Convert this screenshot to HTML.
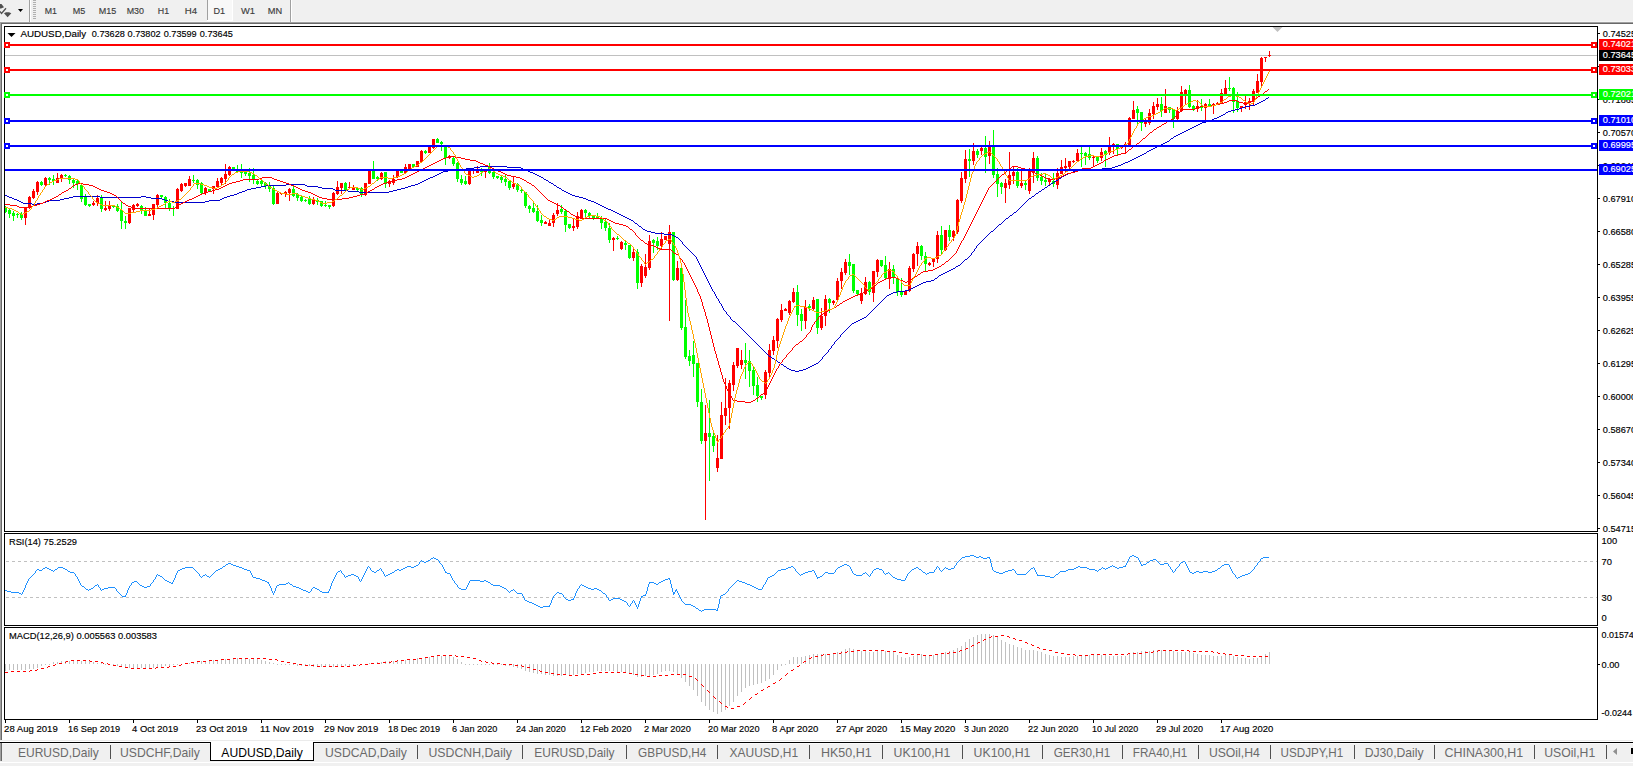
<!DOCTYPE html>
<html><head><meta charset="utf-8"><title>AUDUSD,Daily</title>
<style>html,body{margin:0;padding:0;background:#f0f0f0;overflow:hidden}body{width:1633px;height:766px;position:relative}</style></head>
<body>
<svg width="1633" height="766" viewBox="0 0 1633 766" style="position:absolute;left:0;top:0;font-family:'Liberation Sans',sans-serif">
<rect x="0" y="0" width="1633" height="766" fill="#f0f0f0"/>
<g shape-rendering="crispEdges">
<rect x="0" y="21" width="1633" height="1" fill="#f6f6f6"/>
<rect x="0" y="22" width="1633" height="1" fill="#a0a0a0"/>
<rect x="0" y="23" width="1633" height="1" fill="#696969"/>
<rect x="0" y="24" width="1633" height="718" fill="#ffffff"/>
<rect x="0" y="23" width="1" height="717" fill="#a0a0a0"/>
<rect x="1" y="24" width="1" height="716" fill="#696969"/>
<rect x="4" y="26" width="1594" height="1" fill="#000"/>
<rect x="4" y="531" width="1594" height="1" fill="#000"/>
<rect x="4" y="26" width="1" height="506" fill="#000"/>
<rect x="1597" y="26" width="1" height="506" fill="#000"/>
<rect x="4" y="533" width="1594" height="1" fill="#000"/>
<rect x="4" y="625" width="1594" height="1" fill="#000"/>
<rect x="4" y="533" width="1" height="93" fill="#000"/>
<rect x="1597" y="533" width="1" height="93" fill="#000"/>
<rect x="4" y="627" width="1594" height="1" fill="#000"/>
<rect x="4" y="719" width="1594" height="1" fill="#000"/>
<rect x="4" y="627" width="1" height="93" fill="#000"/>
<rect x="1597" y="627" width="1" height="93" fill="#000"/>
</g>
<defs><clipPath id="cm"><rect x="5" y="27" width="1592" height="504"/></clipPath></defs>
<g shape-rendering="crispEdges">
<rect x="5" y="55" width="1592" height="1" fill="#c0c0c0"/>
</g>
<g shape-rendering="crispEdges" clip-path="url(#cm)">
<rect x="5" y="206" width="1" height="7" fill="#00ff00"/>
<rect x="4" y="208" width="3" height="4" fill="#00ff00"/>
<rect x="9" y="209" width="1" height="9" fill="#00ff00"/>
<rect x="8" y="210" width="3" height="4" fill="#00ff00"/>
<rect x="13" y="211" width="1" height="10" fill="#00ff00"/>
<rect x="12" y="213" width="3" height="3" fill="#00ff00"/>
<rect x="17" y="213" width="1" height="5" fill="#00ff00"/>
<rect x="16" y="214" width="3" height="1" fill="#00ff00"/>
<rect x="21" y="212" width="1" height="8" fill="#00ff00"/>
<rect x="20" y="214" width="3" height="4" fill="#00ff00"/>
<rect x="25" y="208" width="1" height="17" fill="#ff0000"/>
<rect x="24" y="208" width="3" height="10" fill="#ff0000"/>
<rect x="29" y="196" width="1" height="13" fill="#ff0000"/>
<rect x="28" y="197" width="3" height="11" fill="#ff0000"/>
<rect x="33" y="189" width="1" height="10" fill="#ff0000"/>
<rect x="32" y="191" width="3" height="7" fill="#ff0000"/>
<rect x="37" y="181" width="1" height="14" fill="#ff0000"/>
<rect x="36" y="182" width="3" height="10" fill="#ff0000"/>
<rect x="41" y="181" width="1" height="5" fill="#00ff00"/>
<rect x="40" y="182" width="3" height="3" fill="#00ff00"/>
<rect x="45" y="177" width="1" height="9" fill="#ff0000"/>
<rect x="44" y="178" width="3" height="7" fill="#ff0000"/>
<rect x="49" y="177" width="1" height="8" fill="#00ff00"/>
<rect x="48" y="178" width="3" height="2" fill="#00ff00"/>
<rect x="53" y="175" width="1" height="10" fill="#00ff00"/>
<rect x="52" y="179" width="3" height="2" fill="#00ff00"/>
<rect x="57" y="173" width="1" height="10" fill="#ff0000"/>
<rect x="56" y="178" width="3" height="5" fill="#ff0000"/>
<rect x="61" y="174" width="1" height="8" fill="#ff0000"/>
<rect x="60" y="175" width="3" height="3" fill="#ff0000"/>
<rect x="65" y="174" width="1" height="3" fill="#00ff00"/>
<rect x="64" y="175" width="3" height="1" fill="#00ff00"/>
<rect x="69" y="175" width="1" height="9" fill="#00ff00"/>
<rect x="68" y="176" width="3" height="4" fill="#00ff00"/>
<rect x="73" y="179" width="1" height="9" fill="#00ff00"/>
<rect x="72" y="180" width="3" height="3" fill="#00ff00"/>
<rect x="77" y="179" width="1" height="11" fill="#00ff00"/>
<rect x="76" y="181" width="3" height="3" fill="#00ff00"/>
<rect x="81" y="183" width="1" height="19" fill="#00ff00"/>
<rect x="80" y="185" width="3" height="14" fill="#00ff00"/>
<rect x="85" y="194" width="1" height="12" fill="#00ff00"/>
<rect x="84" y="197" width="3" height="8" fill="#00ff00"/>
<rect x="89" y="204" width="1" height="3" fill="#00ff00"/>
<rect x="88" y="204" width="3" height="2" fill="#00ff00"/>
<rect x="93" y="201" width="1" height="5" fill="#ff0000"/>
<rect x="92" y="203" width="3" height="2" fill="#ff0000"/>
<rect x="97" y="195" width="1" height="11" fill="#ff0000"/>
<rect x="96" y="198" width="3" height="5" fill="#ff0000"/>
<rect x="101" y="195" width="1" height="17" fill="#00ff00"/>
<rect x="100" y="198" width="3" height="11" fill="#00ff00"/>
<rect x="105" y="201" width="1" height="10" fill="#ff0000"/>
<rect x="104" y="208" width="3" height="2" fill="#ff0000"/>
<rect x="109" y="201" width="1" height="10" fill="#ff0000"/>
<rect x="108" y="206" width="3" height="3" fill="#ff0000"/>
<rect x="113" y="205" width="1" height="3" fill="#00ff00"/>
<rect x="112" y="206" width="3" height="1" fill="#00ff00"/>
<rect x="117" y="204" width="1" height="8" fill="#00ff00"/>
<rect x="116" y="206" width="3" height="5" fill="#00ff00"/>
<rect x="121" y="202" width="1" height="27" fill="#00ff00"/>
<rect x="120" y="210" width="3" height="11" fill="#00ff00"/>
<rect x="125" y="216" width="1" height="13" fill="#00ff00"/>
<rect x="124" y="221" width="3" height="2" fill="#00ff00"/>
<rect x="129" y="208" width="1" height="16" fill="#ff0000"/>
<rect x="128" y="208" width="3" height="15" fill="#ff0000"/>
<rect x="133" y="204" width="1" height="8" fill="#ff0000"/>
<rect x="132" y="205" width="3" height="5" fill="#ff0000"/>
<rect x="137" y="203" width="1" height="4" fill="#ff0000"/>
<rect x="136" y="204" width="3" height="2" fill="#ff0000"/>
<rect x="141" y="205" width="1" height="9" fill="#00ff00"/>
<rect x="140" y="206" width="3" height="5" fill="#00ff00"/>
<rect x="145" y="207" width="1" height="9" fill="#00ff00"/>
<rect x="144" y="210" width="3" height="6" fill="#00ff00"/>
<rect x="149" y="209" width="1" height="7" fill="#ff0000"/>
<rect x="148" y="214" width="3" height="2" fill="#ff0000"/>
<rect x="153" y="204" width="1" height="16" fill="#ff0000"/>
<rect x="152" y="204" width="3" height="11" fill="#ff0000"/>
<rect x="157" y="194" width="1" height="14" fill="#ff0000"/>
<rect x="156" y="195" width="3" height="10" fill="#ff0000"/>
<rect x="161" y="195" width="1" height="4" fill="#00ff00"/>
<rect x="160" y="195" width="3" height="2" fill="#00ff00"/>
<rect x="165" y="196" width="1" height="12" fill="#00ff00"/>
<rect x="164" y="197" width="3" height="6" fill="#00ff00"/>
<rect x="169" y="199" width="1" height="12" fill="#00ff00"/>
<rect x="168" y="203" width="3" height="5" fill="#00ff00"/>
<rect x="173" y="206" width="1" height="10" fill="#00ff00"/>
<rect x="172" y="208" width="3" height="1" fill="#00ff00"/>
<rect x="177" y="188" width="1" height="21" fill="#ff0000"/>
<rect x="176" y="189" width="3" height="20" fill="#ff0000"/>
<rect x="181" y="183" width="1" height="9" fill="#ff0000"/>
<rect x="180" y="184" width="3" height="7" fill="#ff0000"/>
<rect x="185" y="183" width="1" height="4" fill="#ff0000"/>
<rect x="184" y="183" width="3" height="3" fill="#ff0000"/>
<rect x="189" y="176" width="1" height="10" fill="#ff0000"/>
<rect x="188" y="179" width="3" height="7" fill="#ff0000"/>
<rect x="193" y="175" width="1" height="8" fill="#00ff00"/>
<rect x="192" y="180" width="3" height="1" fill="#00ff00"/>
<rect x="197" y="179" width="1" height="10" fill="#00ff00"/>
<rect x="196" y="180" width="3" height="5" fill="#00ff00"/>
<rect x="201" y="182" width="1" height="12" fill="#00ff00"/>
<rect x="200" y="183" width="3" height="10" fill="#00ff00"/>
<rect x="205" y="187" width="1" height="8" fill="#ff0000"/>
<rect x="204" y="188" width="3" height="5" fill="#ff0000"/>
<rect x="209" y="189" width="1" height="3" fill="#00ff00"/>
<rect x="208" y="189" width="3" height="3" fill="#00ff00"/>
<rect x="213" y="186" width="1" height="8" fill="#ff0000"/>
<rect x="212" y="186" width="3" height="3" fill="#ff0000"/>
<rect x="217" y="178" width="1" height="10" fill="#ff0000"/>
<rect x="216" y="181" width="3" height="6" fill="#ff0000"/>
<rect x="221" y="177" width="1" height="9" fill="#ff0000"/>
<rect x="220" y="178" width="3" height="5" fill="#ff0000"/>
<rect x="225" y="164" width="1" height="20" fill="#ff0000"/>
<rect x="224" y="174" width="3" height="5" fill="#ff0000"/>
<rect x="229" y="166" width="1" height="10" fill="#ff0000"/>
<rect x="228" y="167" width="3" height="8" fill="#ff0000"/>
<rect x="233" y="167" width="1" height="4" fill="#00ff00"/>
<rect x="232" y="167" width="3" height="2" fill="#00ff00"/>
<rect x="237" y="165" width="1" height="8" fill="#00ff00"/>
<rect x="236" y="169" width="3" height="3" fill="#00ff00"/>
<rect x="241" y="164" width="1" height="14" fill="#00ff00"/>
<rect x="240" y="171" width="3" height="2" fill="#00ff00"/>
<rect x="245" y="171" width="1" height="5" fill="#00ff00"/>
<rect x="244" y="171" width="3" height="3" fill="#00ff00"/>
<rect x="249" y="168" width="1" height="14" fill="#00ff00"/>
<rect x="248" y="173" width="3" height="3" fill="#00ff00"/>
<rect x="253" y="168" width="1" height="16" fill="#00ff00"/>
<rect x="252" y="175" width="3" height="5" fill="#00ff00"/>
<rect x="257" y="180" width="1" height="5" fill="#00ff00"/>
<rect x="256" y="181" width="3" height="3" fill="#00ff00"/>
<rect x="261" y="178" width="1" height="8" fill="#00ff00"/>
<rect x="260" y="181" width="3" height="3" fill="#00ff00"/>
<rect x="265" y="182" width="1" height="7" fill="#00ff00"/>
<rect x="264" y="183" width="3" height="3" fill="#00ff00"/>
<rect x="269" y="182" width="1" height="10" fill="#00ff00"/>
<rect x="268" y="186" width="3" height="3" fill="#00ff00"/>
<rect x="273" y="186" width="1" height="19" fill="#00ff00"/>
<rect x="272" y="188" width="3" height="16" fill="#00ff00"/>
<rect x="277" y="192" width="1" height="12" fill="#ff0000"/>
<rect x="276" y="193" width="3" height="11" fill="#ff0000"/>
<rect x="281" y="193" width="1" height="2" fill="#ff0000"/>
<rect x="280" y="193" width="3" height="1" fill="#ff0000"/>
<rect x="285" y="191" width="1" height="6" fill="#ff0000"/>
<rect x="284" y="192" width="3" height="2" fill="#ff0000"/>
<rect x="289" y="188" width="1" height="13" fill="#ff0000"/>
<rect x="288" y="189" width="3" height="4" fill="#ff0000"/>
<rect x="293" y="186" width="1" height="11" fill="#00ff00"/>
<rect x="292" y="189" width="3" height="7" fill="#00ff00"/>
<rect x="297" y="193" width="1" height="8" fill="#00ff00"/>
<rect x="296" y="194" width="3" height="4" fill="#00ff00"/>
<rect x="301" y="196" width="1" height="6" fill="#00ff00"/>
<rect x="300" y="197" width="3" height="4" fill="#00ff00"/>
<rect x="305" y="199" width="1" height="3" fill="#00ff00"/>
<rect x="304" y="200" width="3" height="1" fill="#00ff00"/>
<rect x="309" y="196" width="1" height="9" fill="#00ff00"/>
<rect x="308" y="199" width="3" height="5" fill="#00ff00"/>
<rect x="313" y="197" width="1" height="8" fill="#ff0000"/>
<rect x="312" y="200" width="3" height="4" fill="#ff0000"/>
<rect x="317" y="198" width="1" height="7" fill="#00ff00"/>
<rect x="316" y="200" width="3" height="2" fill="#00ff00"/>
<rect x="321" y="201" width="1" height="6" fill="#00ff00"/>
<rect x="320" y="201" width="3" height="5" fill="#00ff00"/>
<rect x="325" y="201" width="1" height="6" fill="#00ff00"/>
<rect x="324" y="205" width="3" height="1" fill="#00ff00"/>
<rect x="329" y="205" width="1" height="4" fill="#00ff00"/>
<rect x="328" y="205" width="3" height="2" fill="#00ff00"/>
<rect x="333" y="192" width="1" height="15" fill="#ff0000"/>
<rect x="332" y="193" width="3" height="13" fill="#ff0000"/>
<rect x="337" y="181" width="1" height="14" fill="#ff0000"/>
<rect x="336" y="187" width="3" height="7" fill="#ff0000"/>
<rect x="341" y="183" width="1" height="11" fill="#ff0000"/>
<rect x="340" y="183" width="3" height="5" fill="#ff0000"/>
<rect x="345" y="182" width="1" height="9" fill="#00ff00"/>
<rect x="344" y="183" width="3" height="8" fill="#00ff00"/>
<rect x="349" y="182" width="1" height="7" fill="#ff0000"/>
<rect x="348" y="187" width="3" height="1" fill="#ff0000"/>
<rect x="353" y="185" width="1" height="5" fill="#ff0000"/>
<rect x="352" y="187" width="3" height="3" fill="#ff0000"/>
<rect x="357" y="187" width="1" height="4" fill="#00ff00"/>
<rect x="356" y="188" width="3" height="2" fill="#00ff00"/>
<rect x="361" y="187" width="1" height="10" fill="#00ff00"/>
<rect x="360" y="188" width="3" height="7" fill="#00ff00"/>
<rect x="365" y="183" width="1" height="13" fill="#ff0000"/>
<rect x="364" y="183" width="3" height="12" fill="#ff0000"/>
<rect x="369" y="170" width="1" height="14" fill="#ff0000"/>
<rect x="368" y="171" width="3" height="13" fill="#ff0000"/>
<rect x="373" y="161" width="1" height="18" fill="#00ff00"/>
<rect x="372" y="171" width="3" height="8" fill="#00ff00"/>
<rect x="377" y="176" width="1" height="5" fill="#00ff00"/>
<rect x="376" y="177" width="3" height="2" fill="#00ff00"/>
<rect x="381" y="172" width="1" height="8" fill="#ff0000"/>
<rect x="380" y="173" width="3" height="6" fill="#ff0000"/>
<rect x="385" y="172" width="1" height="16" fill="#00ff00"/>
<rect x="384" y="172" width="3" height="12" fill="#00ff00"/>
<rect x="389" y="180" width="1" height="7" fill="#ff0000"/>
<rect x="388" y="181" width="3" height="3" fill="#ff0000"/>
<rect x="393" y="175" width="1" height="10" fill="#ff0000"/>
<rect x="392" y="179" width="3" height="4" fill="#ff0000"/>
<rect x="397" y="170" width="1" height="8" fill="#ff0000"/>
<rect x="396" y="171" width="3" height="6" fill="#ff0000"/>
<rect x="401" y="170" width="1" height="3" fill="#00ff00"/>
<rect x="400" y="171" width="3" height="2" fill="#00ff00"/>
<rect x="405" y="164" width="1" height="10" fill="#ff0000"/>
<rect x="404" y="167" width="3" height="6" fill="#ff0000"/>
<rect x="409" y="164" width="1" height="5" fill="#ff0000"/>
<rect x="408" y="164" width="3" height="5" fill="#ff0000"/>
<rect x="413" y="164" width="1" height="3" fill="#00ff00"/>
<rect x="412" y="164" width="3" height="3" fill="#00ff00"/>
<rect x="417" y="161" width="1" height="6" fill="#ff0000"/>
<rect x="416" y="161" width="3" height="6" fill="#ff0000"/>
<rect x="421" y="150" width="1" height="12" fill="#ff0000"/>
<rect x="420" y="151" width="3" height="11" fill="#ff0000"/>
<rect x="425" y="150" width="1" height="4" fill="#00ff00"/>
<rect x="424" y="151" width="3" height="2" fill="#00ff00"/>
<rect x="429" y="146" width="1" height="7" fill="#ff0000"/>
<rect x="428" y="146" width="3" height="7" fill="#ff0000"/>
<rect x="433" y="139" width="1" height="10" fill="#ff0000"/>
<rect x="432" y="139" width="3" height="9" fill="#ff0000"/>
<rect x="437" y="138" width="1" height="5" fill="#00ff00"/>
<rect x="436" y="139" width="3" height="4" fill="#00ff00"/>
<rect x="441" y="141" width="1" height="10" fill="#00ff00"/>
<rect x="440" y="142" width="3" height="2" fill="#00ff00"/>
<rect x="445" y="146" width="1" height="19" fill="#00ff00"/>
<rect x="444" y="146" width="3" height="12" fill="#00ff00"/>
<rect x="449" y="155" width="1" height="4" fill="#ff0000"/>
<rect x="448" y="156" width="3" height="2" fill="#ff0000"/>
<rect x="453" y="157" width="1" height="9" fill="#00ff00"/>
<rect x="452" y="158" width="3" height="6" fill="#00ff00"/>
<rect x="457" y="162" width="1" height="20" fill="#00ff00"/>
<rect x="456" y="163" width="3" height="16" fill="#00ff00"/>
<rect x="461" y="175" width="1" height="10" fill="#00ff00"/>
<rect x="460" y="179" width="3" height="4" fill="#00ff00"/>
<rect x="465" y="176" width="1" height="9" fill="#00ff00"/>
<rect x="464" y="181" width="3" height="3" fill="#00ff00"/>
<rect x="469" y="170" width="1" height="15" fill="#ff0000"/>
<rect x="468" y="171" width="3" height="13" fill="#ff0000"/>
<rect x="473" y="168" width="1" height="6" fill="#ff0000"/>
<rect x="472" y="170" width="3" height="1" fill="#ff0000"/>
<rect x="477" y="166" width="1" height="7" fill="#ff0000"/>
<rect x="476" y="169" width="3" height="4" fill="#ff0000"/>
<rect x="481" y="168" width="1" height="8" fill="#00ff00"/>
<rect x="480" y="169" width="3" height="3" fill="#00ff00"/>
<rect x="485" y="170" width="1" height="8" fill="#ff0000"/>
<rect x="484" y="170" width="3" height="2" fill="#ff0000"/>
<rect x="489" y="163" width="1" height="11" fill="#00ff00"/>
<rect x="488" y="167" width="3" height="6" fill="#00ff00"/>
<rect x="493" y="169" width="1" height="10" fill="#00ff00"/>
<rect x="492" y="172" width="3" height="5" fill="#00ff00"/>
<rect x="497" y="176" width="1" height="3" fill="#00ff00"/>
<rect x="496" y="176" width="3" height="2" fill="#00ff00"/>
<rect x="501" y="176" width="1" height="7" fill="#00ff00"/>
<rect x="500" y="177" width="3" height="3" fill="#00ff00"/>
<rect x="505" y="175" width="1" height="11" fill="#00ff00"/>
<rect x="504" y="179" width="3" height="3" fill="#00ff00"/>
<rect x="509" y="180" width="1" height="10" fill="#00ff00"/>
<rect x="508" y="181" width="3" height="7" fill="#00ff00"/>
<rect x="513" y="176" width="1" height="13" fill="#ff0000"/>
<rect x="512" y="184" width="3" height="3" fill="#ff0000"/>
<rect x="517" y="183" width="1" height="9" fill="#00ff00"/>
<rect x="516" y="184" width="3" height="6" fill="#00ff00"/>
<rect x="521" y="189" width="1" height="4" fill="#00ff00"/>
<rect x="520" y="190" width="3" height="1" fill="#00ff00"/>
<rect x="525" y="192" width="1" height="16" fill="#00ff00"/>
<rect x="524" y="192" width="3" height="14" fill="#00ff00"/>
<rect x="529" y="205" width="1" height="8" fill="#00ff00"/>
<rect x="528" y="206" width="3" height="3" fill="#00ff00"/>
<rect x="533" y="202" width="1" height="11" fill="#00ff00"/>
<rect x="532" y="208" width="3" height="4" fill="#00ff00"/>
<rect x="537" y="205" width="1" height="17" fill="#00ff00"/>
<rect x="536" y="211" width="3" height="10" fill="#00ff00"/>
<rect x="541" y="215" width="1" height="11" fill="#00ff00"/>
<rect x="540" y="220" width="3" height="3" fill="#00ff00"/>
<rect x="545" y="221" width="1" height="3" fill="#ff0000"/>
<rect x="544" y="222" width="3" height="2" fill="#ff0000"/>
<rect x="549" y="220" width="1" height="6" fill="#ff0000"/>
<rect x="548" y="223" width="3" height="3" fill="#ff0000"/>
<rect x="553" y="213" width="1" height="14" fill="#ff0000"/>
<rect x="552" y="215" width="3" height="8" fill="#ff0000"/>
<rect x="557" y="203" width="1" height="13" fill="#ff0000"/>
<rect x="556" y="210" width="3" height="4" fill="#ff0000"/>
<rect x="561" y="205" width="1" height="9" fill="#00ff00"/>
<rect x="560" y="209" width="3" height="3" fill="#00ff00"/>
<rect x="565" y="209" width="1" height="23" fill="#00ff00"/>
<rect x="564" y="211" width="3" height="14" fill="#00ff00"/>
<rect x="569" y="224" width="1" height="5" fill="#00ff00"/>
<rect x="568" y="224" width="3" height="4" fill="#00ff00"/>
<rect x="573" y="219" width="1" height="12" fill="#ff0000"/>
<rect x="572" y="226" width="3" height="2" fill="#ff0000"/>
<rect x="577" y="212" width="1" height="17" fill="#ff0000"/>
<rect x="576" y="216" width="3" height="11" fill="#ff0000"/>
<rect x="581" y="209" width="1" height="10" fill="#ff0000"/>
<rect x="580" y="210" width="3" height="8" fill="#ff0000"/>
<rect x="585" y="209" width="1" height="9" fill="#00ff00"/>
<rect x="584" y="210" width="3" height="3" fill="#00ff00"/>
<rect x="589" y="212" width="1" height="6" fill="#00ff00"/>
<rect x="588" y="213" width="3" height="3" fill="#00ff00"/>
<rect x="593" y="215" width="1" height="5" fill="#00ff00"/>
<rect x="592" y="216" width="3" height="3" fill="#00ff00"/>
<rect x="597" y="213" width="1" height="5" fill="#00ff00"/>
<rect x="596" y="216" width="3" height="2" fill="#00ff00"/>
<rect x="601" y="216" width="1" height="13" fill="#00ff00"/>
<rect x="600" y="218" width="3" height="5" fill="#00ff00"/>
<rect x="605" y="218" width="1" height="13" fill="#00ff00"/>
<rect x="604" y="222" width="3" height="6" fill="#00ff00"/>
<rect x="609" y="223" width="1" height="20" fill="#00ff00"/>
<rect x="608" y="228" width="3" height="12" fill="#00ff00"/>
<rect x="613" y="237" width="1" height="14" fill="#ff0000"/>
<rect x="612" y="238" width="3" height="2" fill="#ff0000"/>
<rect x="617" y="236" width="1" height="4" fill="#00ff00"/>
<rect x="616" y="238" width="3" height="1" fill="#00ff00"/>
<rect x="621" y="241" width="1" height="9" fill="#ff0000"/>
<rect x="620" y="242" width="3" height="7" fill="#ff0000"/>
<rect x="625" y="240" width="1" height="10" fill="#00ff00"/>
<rect x="624" y="243" width="3" height="2" fill="#00ff00"/>
<rect x="629" y="245" width="1" height="14" fill="#00ff00"/>
<rect x="628" y="245" width="3" height="13" fill="#00ff00"/>
<rect x="633" y="248" width="1" height="13" fill="#ff0000"/>
<rect x="632" y="252" width="3" height="6" fill="#ff0000"/>
<rect x="637" y="249" width="1" height="40" fill="#00ff00"/>
<rect x="636" y="252" width="3" height="31" fill="#00ff00"/>
<rect x="641" y="264" width="1" height="23" fill="#ff0000"/>
<rect x="640" y="266" width="3" height="17" fill="#ff0000"/>
<rect x="645" y="254" width="1" height="24" fill="#ff0000"/>
<rect x="644" y="267" width="3" height="9" fill="#ff0000"/>
<rect x="649" y="235" width="1" height="35" fill="#ff0000"/>
<rect x="648" y="241" width="3" height="27" fill="#ff0000"/>
<rect x="653" y="239" width="1" height="14" fill="#00ff00"/>
<rect x="652" y="240" width="3" height="3" fill="#00ff00"/>
<rect x="657" y="237" width="1" height="13" fill="#00ff00"/>
<rect x="656" y="241" width="3" height="5" fill="#00ff00"/>
<rect x="661" y="232" width="1" height="18" fill="#ff0000"/>
<rect x="660" y="239" width="3" height="7" fill="#ff0000"/>
<rect x="665" y="236" width="1" height="4" fill="#ff0000"/>
<rect x="664" y="236" width="3" height="4" fill="#ff0000"/>
<rect x="669" y="225" width="1" height="96" fill="#ff0000"/>
<rect x="668" y="232" width="3" height="12" fill="#ff0000"/>
<rect x="673" y="232" width="1" height="49" fill="#00ff00"/>
<rect x="672" y="232" width="3" height="48" fill="#00ff00"/>
<rect x="677" y="261" width="1" height="20" fill="#ff0000"/>
<rect x="676" y="268" width="3" height="12" fill="#ff0000"/>
<rect x="681" y="268" width="1" height="62" fill="#00ff00"/>
<rect x="680" y="268" width="3" height="60" fill="#00ff00"/>
<rect x="685" y="300" width="1" height="59" fill="#00ff00"/>
<rect x="684" y="327" width="3" height="30" fill="#00ff00"/>
<rect x="689" y="350" width="1" height="16" fill="#00ff00"/>
<rect x="688" y="356" width="3" height="5" fill="#00ff00"/>
<rect x="693" y="341" width="1" height="36" fill="#00ff00"/>
<rect x="692" y="355" width="3" height="9" fill="#00ff00"/>
<rect x="697" y="363" width="1" height="44" fill="#00ff00"/>
<rect x="696" y="363" width="3" height="39" fill="#00ff00"/>
<rect x="701" y="389" width="1" height="55" fill="#00ff00"/>
<rect x="700" y="402" width="3" height="39" fill="#00ff00"/>
<rect x="705" y="405" width="1" height="115" fill="#ff0000"/>
<rect x="704" y="433" width="3" height="8" fill="#ff0000"/>
<rect x="709" y="400" width="1" height="81" fill="#00ff00"/>
<rect x="708" y="433" width="3" height="4" fill="#00ff00"/>
<rect x="713" y="433" width="1" height="19" fill="#00ff00"/>
<rect x="712" y="436" width="3" height="10" fill="#00ff00"/>
<rect x="717" y="435" width="1" height="37" fill="#ff0000"/>
<rect x="716" y="458" width="3" height="10" fill="#ff0000"/>
<rect x="721" y="402" width="1" height="57" fill="#ff0000"/>
<rect x="720" y="415" width="3" height="44" fill="#ff0000"/>
<rect x="725" y="378" width="1" height="47" fill="#ff0000"/>
<rect x="724" y="408" width="3" height="8" fill="#ff0000"/>
<rect x="729" y="380" width="1" height="49" fill="#ff0000"/>
<rect x="728" y="383" width="3" height="25" fill="#ff0000"/>
<rect x="733" y="362" width="1" height="29" fill="#ff0000"/>
<rect x="732" y="365" width="3" height="20" fill="#ff0000"/>
<rect x="737" y="348" width="1" height="20" fill="#ff0000"/>
<rect x="736" y="348" width="3" height="18" fill="#ff0000"/>
<rect x="741" y="350" width="1" height="19" fill="#ff0000"/>
<rect x="740" y="360" width="3" height="5" fill="#ff0000"/>
<rect x="745" y="343" width="1" height="36" fill="#00ff00"/>
<rect x="744" y="360" width="3" height="3" fill="#00ff00"/>
<rect x="749" y="350" width="1" height="37" fill="#00ff00"/>
<rect x="748" y="361" width="3" height="10" fill="#00ff00"/>
<rect x="753" y="367" width="1" height="28" fill="#00ff00"/>
<rect x="752" y="370" width="3" height="16" fill="#00ff00"/>
<rect x="757" y="377" width="1" height="25" fill="#00ff00"/>
<rect x="756" y="385" width="3" height="11" fill="#00ff00"/>
<rect x="761" y="396" width="1" height="4" fill="#00ff00"/>
<rect x="760" y="396" width="3" height="2" fill="#00ff00"/>
<rect x="765" y="370" width="1" height="29" fill="#ff0000"/>
<rect x="764" y="372" width="3" height="23" fill="#ff0000"/>
<rect x="769" y="344" width="1" height="34" fill="#ff0000"/>
<rect x="768" y="350" width="3" height="23" fill="#ff0000"/>
<rect x="773" y="336" width="1" height="19" fill="#ff0000"/>
<rect x="772" y="340" width="3" height="11" fill="#ff0000"/>
<rect x="777" y="318" width="1" height="30" fill="#ff0000"/>
<rect x="776" y="319" width="3" height="22" fill="#ff0000"/>
<rect x="781" y="304" width="1" height="18" fill="#ff0000"/>
<rect x="780" y="310" width="3" height="10" fill="#ff0000"/>
<rect x="785" y="308" width="1" height="3" fill="#ff0000"/>
<rect x="784" y="309" width="3" height="2" fill="#ff0000"/>
<rect x="789" y="300" width="1" height="15" fill="#ff0000"/>
<rect x="788" y="301" width="3" height="12" fill="#ff0000"/>
<rect x="793" y="288" width="1" height="15" fill="#ff0000"/>
<rect x="792" y="292" width="3" height="10" fill="#ff0000"/>
<rect x="797" y="285" width="1" height="41" fill="#00ff00"/>
<rect x="796" y="292" width="3" height="23" fill="#00ff00"/>
<rect x="801" y="309" width="1" height="22" fill="#00ff00"/>
<rect x="800" y="314" width="3" height="7" fill="#00ff00"/>
<rect x="805" y="300" width="1" height="29" fill="#ff0000"/>
<rect x="804" y="307" width="3" height="14" fill="#ff0000"/>
<rect x="809" y="304" width="1" height="7" fill="#00ff00"/>
<rect x="808" y="306" width="3" height="2" fill="#00ff00"/>
<rect x="813" y="297" width="1" height="13" fill="#ff0000"/>
<rect x="812" y="300" width="3" height="9" fill="#ff0000"/>
<rect x="817" y="299" width="1" height="35" fill="#00ff00"/>
<rect x="816" y="299" width="3" height="29" fill="#00ff00"/>
<rect x="821" y="308" width="1" height="22" fill="#ff0000"/>
<rect x="820" y="316" width="3" height="12" fill="#ff0000"/>
<rect x="825" y="295" width="1" height="31" fill="#ff0000"/>
<rect x="824" y="299" width="3" height="17" fill="#ff0000"/>
<rect x="829" y="298" width="1" height="15" fill="#00ff00"/>
<rect x="828" y="299" width="3" height="4" fill="#00ff00"/>
<rect x="833" y="300" width="1" height="5" fill="#ff0000"/>
<rect x="832" y="301" width="3" height="2" fill="#ff0000"/>
<rect x="837" y="278" width="1" height="23" fill="#ff0000"/>
<rect x="836" y="281" width="3" height="19" fill="#ff0000"/>
<rect x="841" y="268" width="1" height="21" fill="#ff0000"/>
<rect x="840" y="272" width="3" height="9" fill="#ff0000"/>
<rect x="845" y="259" width="1" height="16" fill="#ff0000"/>
<rect x="844" y="262" width="3" height="11" fill="#ff0000"/>
<rect x="849" y="254" width="1" height="21" fill="#00ff00"/>
<rect x="848" y="262" width="3" height="4" fill="#00ff00"/>
<rect x="853" y="264" width="1" height="29" fill="#00ff00"/>
<rect x="852" y="264" width="3" height="27" fill="#00ff00"/>
<rect x="857" y="290" width="1" height="5" fill="#00ff00"/>
<rect x="856" y="290" width="3" height="4" fill="#00ff00"/>
<rect x="861" y="288" width="1" height="16" fill="#ff0000"/>
<rect x="860" y="293" width="3" height="8" fill="#ff0000"/>
<rect x="865" y="277" width="1" height="18" fill="#ff0000"/>
<rect x="864" y="282" width="3" height="12" fill="#ff0000"/>
<rect x="869" y="281" width="1" height="14" fill="#00ff00"/>
<rect x="868" y="282" width="3" height="10" fill="#00ff00"/>
<rect x="873" y="271" width="1" height="31" fill="#ff0000"/>
<rect x="872" y="271" width="3" height="22" fill="#ff0000"/>
<rect x="877" y="259" width="1" height="18" fill="#ff0000"/>
<rect x="876" y="260" width="3" height="12" fill="#ff0000"/>
<rect x="881" y="260" width="1" height="7" fill="#00ff00"/>
<rect x="880" y="260" width="3" height="6" fill="#00ff00"/>
<rect x="885" y="256" width="1" height="23" fill="#00ff00"/>
<rect x="884" y="265" width="3" height="13" fill="#00ff00"/>
<rect x="889" y="262" width="1" height="27" fill="#ff0000"/>
<rect x="888" y="269" width="3" height="10" fill="#ff0000"/>
<rect x="893" y="265" width="1" height="19" fill="#00ff00"/>
<rect x="892" y="269" width="3" height="8" fill="#00ff00"/>
<rect x="897" y="278" width="1" height="18" fill="#00ff00"/>
<rect x="896" y="279" width="3" height="13" fill="#00ff00"/>
<rect x="901" y="278" width="1" height="19" fill="#00ff00"/>
<rect x="900" y="291" width="3" height="4" fill="#00ff00"/>
<rect x="905" y="291" width="1" height="4" fill="#ff0000"/>
<rect x="904" y="291" width="3" height="4" fill="#ff0000"/>
<rect x="909" y="266" width="1" height="26" fill="#ff0000"/>
<rect x="908" y="268" width="3" height="23" fill="#ff0000"/>
<rect x="913" y="253" width="1" height="19" fill="#ff0000"/>
<rect x="912" y="254" width="3" height="15" fill="#ff0000"/>
<rect x="917" y="242" width="1" height="24" fill="#ff0000"/>
<rect x="916" y="246" width="3" height="8" fill="#ff0000"/>
<rect x="921" y="245" width="1" height="15" fill="#00ff00"/>
<rect x="920" y="246" width="3" height="10" fill="#00ff00"/>
<rect x="925" y="252" width="1" height="19" fill="#00ff00"/>
<rect x="924" y="256" width="3" height="8" fill="#00ff00"/>
<rect x="929" y="262" width="1" height="4" fill="#ff0000"/>
<rect x="928" y="263" width="3" height="2" fill="#ff0000"/>
<rect x="933" y="259" width="1" height="8" fill="#ff0000"/>
<rect x="932" y="259" width="3" height="3" fill="#ff0000"/>
<rect x="937" y="231" width="1" height="32" fill="#ff0000"/>
<rect x="936" y="235" width="3" height="24" fill="#ff0000"/>
<rect x="941" y="226" width="1" height="28" fill="#00ff00"/>
<rect x="940" y="235" width="3" height="15" fill="#00ff00"/>
<rect x="945" y="230" width="1" height="21" fill="#ff0000"/>
<rect x="944" y="230" width="3" height="20" fill="#ff0000"/>
<rect x="949" y="225" width="1" height="16" fill="#00ff00"/>
<rect x="948" y="230" width="3" height="7" fill="#00ff00"/>
<rect x="953" y="230" width="1" height="11" fill="#ff0000"/>
<rect x="952" y="231" width="3" height="6" fill="#ff0000"/>
<rect x="957" y="199" width="1" height="35" fill="#ff0000"/>
<rect x="956" y="200" width="3" height="32" fill="#ff0000"/>
<rect x="961" y="172" width="1" height="31" fill="#ff0000"/>
<rect x="960" y="178" width="3" height="23" fill="#ff0000"/>
<rect x="965" y="150" width="1" height="33" fill="#ff0000"/>
<rect x="964" y="159" width="3" height="20" fill="#ff0000"/>
<rect x="969" y="149" width="1" height="28" fill="#00ff00"/>
<rect x="968" y="159" width="3" height="2" fill="#00ff00"/>
<rect x="973" y="143" width="1" height="22" fill="#ff0000"/>
<rect x="972" y="151" width="3" height="10" fill="#ff0000"/>
<rect x="977" y="149" width="1" height="9" fill="#00ff00"/>
<rect x="976" y="151" width="3" height="4" fill="#00ff00"/>
<rect x="981" y="147" width="1" height="8" fill="#ff0000"/>
<rect x="980" y="148" width="3" height="3" fill="#ff0000"/>
<rect x="985" y="136" width="1" height="37" fill="#00ff00"/>
<rect x="984" y="148" width="3" height="9" fill="#00ff00"/>
<rect x="989" y="141" width="1" height="23" fill="#ff0000"/>
<rect x="988" y="147" width="3" height="9" fill="#ff0000"/>
<rect x="993" y="130" width="1" height="48" fill="#00ff00"/>
<rect x="992" y="147" width="3" height="28" fill="#00ff00"/>
<rect x="997" y="168" width="1" height="29" fill="#00ff00"/>
<rect x="996" y="174" width="3" height="10" fill="#00ff00"/>
<rect x="1001" y="182" width="1" height="12" fill="#00ff00"/>
<rect x="1000" y="183" width="3" height="4" fill="#00ff00"/>
<rect x="1005" y="179" width="1" height="24" fill="#ff0000"/>
<rect x="1004" y="183" width="3" height="5" fill="#ff0000"/>
<rect x="1009" y="152" width="1" height="37" fill="#ff0000"/>
<rect x="1008" y="175" width="3" height="10" fill="#ff0000"/>
<rect x="1013" y="166" width="1" height="18" fill="#ff0000"/>
<rect x="1012" y="172" width="3" height="4" fill="#ff0000"/>
<rect x="1017" y="168" width="1" height="20" fill="#00ff00"/>
<rect x="1016" y="172" width="3" height="14" fill="#00ff00"/>
<rect x="1021" y="168" width="1" height="20" fill="#ff0000"/>
<rect x="1020" y="183" width="3" height="3" fill="#ff0000"/>
<rect x="1025" y="180" width="1" height="10" fill="#00ff00"/>
<rect x="1024" y="183" width="3" height="2" fill="#00ff00"/>
<rect x="1029" y="168" width="1" height="26" fill="#ff0000"/>
<rect x="1028" y="170" width="3" height="21" fill="#ff0000"/>
<rect x="1033" y="152" width="1" height="31" fill="#ff0000"/>
<rect x="1032" y="158" width="3" height="15" fill="#ff0000"/>
<rect x="1037" y="156" width="1" height="25" fill="#00ff00"/>
<rect x="1036" y="158" width="3" height="20" fill="#00ff00"/>
<rect x="1041" y="173" width="1" height="12" fill="#00ff00"/>
<rect x="1040" y="177" width="3" height="4" fill="#00ff00"/>
<rect x="1045" y="173" width="1" height="13" fill="#00ff00"/>
<rect x="1044" y="180" width="3" height="2" fill="#00ff00"/>
<rect x="1049" y="178" width="1" height="7" fill="#ff0000"/>
<rect x="1048" y="179" width="3" height="3" fill="#ff0000"/>
<rect x="1053" y="173" width="1" height="14" fill="#00ff00"/>
<rect x="1052" y="181" width="3" height="3" fill="#00ff00"/>
<rect x="1057" y="168" width="1" height="21" fill="#ff0000"/>
<rect x="1056" y="173" width="3" height="12" fill="#ff0000"/>
<rect x="1061" y="160" width="1" height="14" fill="#ff0000"/>
<rect x="1060" y="167" width="3" height="7" fill="#ff0000"/>
<rect x="1065" y="158" width="1" height="14" fill="#ff0000"/>
<rect x="1064" y="166" width="3" height="2" fill="#ff0000"/>
<rect x="1069" y="161" width="1" height="8" fill="#ff0000"/>
<rect x="1068" y="161" width="3" height="6" fill="#ff0000"/>
<rect x="1073" y="160" width="1" height="3" fill="#ff0000"/>
<rect x="1072" y="161" width="3" height="1" fill="#ff0000"/>
<rect x="1077" y="149" width="1" height="13" fill="#ff0000"/>
<rect x="1076" y="153" width="3" height="8" fill="#ff0000"/>
<rect x="1081" y="147" width="1" height="20" fill="#00ff00"/>
<rect x="1080" y="153" width="3" height="1" fill="#00ff00"/>
<rect x="1085" y="152" width="1" height="13" fill="#00ff00"/>
<rect x="1084" y="153" width="3" height="3" fill="#00ff00"/>
<rect x="1089" y="147" width="1" height="13" fill="#00ff00"/>
<rect x="1088" y="154" width="3" height="4" fill="#00ff00"/>
<rect x="1093" y="156" width="1" height="10" fill="#ff0000"/>
<rect x="1092" y="157" width="3" height="1" fill="#ff0000"/>
<rect x="1097" y="156" width="1" height="7" fill="#00ff00"/>
<rect x="1096" y="157" width="3" height="4" fill="#00ff00"/>
<rect x="1101" y="148" width="1" height="13" fill="#ff0000"/>
<rect x="1100" y="152" width="3" height="6" fill="#ff0000"/>
<rect x="1105" y="150" width="1" height="17" fill="#00ff00"/>
<rect x="1104" y="151" width="3" height="4" fill="#00ff00"/>
<rect x="1109" y="137" width="1" height="18" fill="#ff0000"/>
<rect x="1108" y="147" width="3" height="6" fill="#ff0000"/>
<rect x="1113" y="143" width="1" height="11" fill="#ff0000"/>
<rect x="1112" y="144" width="3" height="3" fill="#ff0000"/>
<rect x="1117" y="144" width="1" height="11" fill="#00ff00"/>
<rect x="1116" y="144" width="3" height="5" fill="#00ff00"/>
<rect x="1121" y="145" width="1" height="4" fill="#ff0000"/>
<rect x="1120" y="146" width="3" height="2" fill="#ff0000"/>
<rect x="1125" y="142" width="1" height="12" fill="#ff0000"/>
<rect x="1124" y="144" width="3" height="2" fill="#ff0000"/>
<rect x="1129" y="117" width="1" height="29" fill="#ff0000"/>
<rect x="1128" y="118" width="3" height="27" fill="#ff0000"/>
<rect x="1133" y="101" width="1" height="18" fill="#ff0000"/>
<rect x="1132" y="110" width="3" height="9" fill="#ff0000"/>
<rect x="1137" y="106" width="1" height="19" fill="#00ff00"/>
<rect x="1136" y="109" width="3" height="4" fill="#00ff00"/>
<rect x="1141" y="112" width="1" height="19" fill="#00ff00"/>
<rect x="1140" y="112" width="3" height="11" fill="#00ff00"/>
<rect x="1145" y="119" width="1" height="8" fill="#ff0000"/>
<rect x="1144" y="121" width="3" height="3" fill="#ff0000"/>
<rect x="1149" y="109" width="1" height="16" fill="#ff0000"/>
<rect x="1148" y="113" width="3" height="10" fill="#ff0000"/>
<rect x="1153" y="102" width="1" height="17" fill="#ff0000"/>
<rect x="1152" y="106" width="3" height="8" fill="#ff0000"/>
<rect x="1157" y="98" width="1" height="12" fill="#ff0000"/>
<rect x="1156" y="104" width="3" height="3" fill="#ff0000"/>
<rect x="1161" y="97" width="1" height="20" fill="#00ff00"/>
<rect x="1160" y="104" width="3" height="7" fill="#00ff00"/>
<rect x="1165" y="89" width="1" height="24" fill="#ff0000"/>
<rect x="1164" y="106" width="3" height="7" fill="#ff0000"/>
<rect x="1169" y="107" width="1" height="6" fill="#00ff00"/>
<rect x="1168" y="107" width="3" height="3" fill="#00ff00"/>
<rect x="1173" y="109" width="1" height="19" fill="#00ff00"/>
<rect x="1172" y="109" width="3" height="10" fill="#00ff00"/>
<rect x="1177" y="107" width="1" height="13" fill="#ff0000"/>
<rect x="1176" y="111" width="3" height="8" fill="#ff0000"/>
<rect x="1181" y="86" width="1" height="26" fill="#ff0000"/>
<rect x="1180" y="92" width="3" height="19" fill="#ff0000"/>
<rect x="1185" y="89" width="1" height="16" fill="#ff0000"/>
<rect x="1184" y="90" width="3" height="4" fill="#ff0000"/>
<rect x="1189" y="85" width="1" height="23" fill="#00ff00"/>
<rect x="1188" y="90" width="3" height="17" fill="#00ff00"/>
<rect x="1193" y="105" width="1" height="6" fill="#00ff00"/>
<rect x="1192" y="106" width="3" height="3" fill="#00ff00"/>
<rect x="1197" y="100" width="1" height="12" fill="#ff0000"/>
<rect x="1196" y="106" width="3" height="3" fill="#ff0000"/>
<rect x="1201" y="99" width="1" height="12" fill="#00ff00"/>
<rect x="1200" y="106" width="3" height="2" fill="#00ff00"/>
<rect x="1205" y="103" width="1" height="17" fill="#ff0000"/>
<rect x="1204" y="104" width="3" height="4" fill="#ff0000"/>
<rect x="1209" y="99" width="1" height="8" fill="#00ff00"/>
<rect x="1208" y="104" width="3" height="2" fill="#00ff00"/>
<rect x="1213" y="103" width="1" height="11" fill="#ff0000"/>
<rect x="1212" y="104" width="3" height="2" fill="#ff0000"/>
<rect x="1217" y="102" width="1" height="3" fill="#ff0000"/>
<rect x="1216" y="103" width="3" height="2" fill="#ff0000"/>
<rect x="1221" y="89" width="1" height="15" fill="#ff0000"/>
<rect x="1220" y="93" width="3" height="10" fill="#ff0000"/>
<rect x="1225" y="80" width="1" height="15" fill="#ff0000"/>
<rect x="1224" y="88" width="3" height="6" fill="#ff0000"/>
<rect x="1229" y="77" width="1" height="14" fill="#00ff00"/>
<rect x="1228" y="88" width="3" height="1" fill="#00ff00"/>
<rect x="1233" y="87" width="1" height="26" fill="#00ff00"/>
<rect x="1232" y="88" width="3" height="14" fill="#00ff00"/>
<rect x="1237" y="92" width="1" height="20" fill="#00ff00"/>
<rect x="1236" y="101" width="3" height="7" fill="#00ff00"/>
<rect x="1241" y="106" width="1" height="6" fill="#ff0000"/>
<rect x="1240" y="106" width="3" height="2" fill="#ff0000"/>
<rect x="1245" y="96" width="1" height="13" fill="#ff0000"/>
<rect x="1244" y="102" width="3" height="3" fill="#ff0000"/>
<rect x="1249" y="98" width="1" height="12" fill="#ff0000"/>
<rect x="1248" y="101" width="3" height="2" fill="#ff0000"/>
<rect x="1253" y="89" width="1" height="17" fill="#ff0000"/>
<rect x="1252" y="91" width="3" height="11" fill="#ff0000"/>
<rect x="1257" y="74" width="1" height="19" fill="#ff0000"/>
<rect x="1256" y="81" width="3" height="12" fill="#ff0000"/>
<rect x="1261" y="57" width="1" height="29" fill="#ff0000"/>
<rect x="1260" y="58" width="3" height="24" fill="#ff0000"/>
<rect x="1265" y="57" width="1" height="5" fill="#ff0000"/>
<rect x="1264" y="57" width="3" height="1" fill="#ff0000"/>
<rect x="1269" y="51" width="1" height="6" fill="#ff0000"/>
<rect x="1268" y="55" width="3" height="1" fill="#ff0000"/>
</g>
<path shape-rendering="crispEdges" fill="none" stroke="#0000cd" stroke-width="1" d="M1268 97.5h1M1266 98.5h2M1265 99.5h1M1263 100.5h2M1261 101.5h2M1259 102.5h2M1257 103.5h2M1255 104.5h2M1250 105.5h5M1245 106.5h5M1242 107.5h3M1239 108.5h3M1235 109.5h4M1231 110.5h4M1228 111.5h3M1226 112.5h2M1225 113.5h1M1223 114.5h2M1221 115.5h2M1219 116.5h2M1217 117.5h2M1214 118.5h3M1212 119.5h2M1210 120.5h2M1206 121.5h4M1202 122.5h4M1200 123.5h2M1198 124.5h2M1196 125.5h2M1194 126.5h2M1192 127.5h2M1190 128.5h2M1188 129.5h2M1186 130.5h2M1184 131.5h2M1182 132.5h2M1180 133.5h2M1178 134.5h2M1176 135.5h2M1174 136.5h2M1173 137.5h1M1171 138.5h2M1170 139.5h1M1169 140.5h1M1167 141.5h2M1165 142.5h2M1163 143.5h2M1161 144.5h2M1159 145.5h2M1157 146.5h2M1155 147.5h2M1153 148.5h2M1151 149.5h2M1149 150.5h2M1147 151.5h2M1146 152.5h1M1144 153.5h2M1142 154.5h2M1140 155.5h2M1138 156.5h2M1136 157.5h2M1134 158.5h2M1132 159.5h2M1130 160.5h2M1128 161.5h2M1125 162.5h3M1123 163.5h2M1121 164.5h2M1118 165.5h3M480 166.5h27M1115 166.5h3M474 167.5h6M507 167.5h14M1112 167.5h3M466 168.5h8M521 168.5h2M1102 168.5h10M456 169.5h10M523 169.5h2M1086 169.5h16M448 170.5h8M525 170.5h3M1076 170.5h10M443 171.5h5M528 171.5h2M1073 171.5h3M441 172.5h2M530 172.5h3M1071 172.5h2M439 173.5h2M533 173.5h2M1068 173.5h3M437 174.5h2M535 174.5h2M1066 174.5h2M435 175.5h2M537 175.5h2M1064 175.5h2M433 176.5h2M539 176.5h2M1062 176.5h2M430 177.5h3M541 177.5h2M1061 177.5h1M428 178.5h2M543 178.5h1M1059 178.5h2M426 179.5h2M544 179.5h2M1058 179.5h1M424 180.5h2M546 180.5h2M1056 180.5h2M422 181.5h2M548 181.5h1M1054 181.5h2M420 182.5h2M549 182.5h2M1053 182.5h1M418 183.5h2M551 183.5h2M1051 183.5h2M286 184.5h19M415 184.5h3M553 184.5h1M1050 184.5h1M266 185.5h20M305 185.5h2M411 185.5h4M554 185.5h2M1048 185.5h2M261 186.5h5M307 186.5h11M408 186.5h3M556 186.5h1M1047 186.5h1M256 187.5h5M318 187.5h4M405 187.5h3M557 187.5h2M1045 187.5h2M251 188.5h5M322 188.5h11M401 188.5h4M559 188.5h2M1044 188.5h1M247 189.5h4M333 189.5h2M397 189.5h4M561 189.5h1M1042 189.5h2M245 190.5h2M335 190.5h13M393 190.5h4M562 190.5h2M1041 190.5h1M242 191.5h3M348 191.5h11M389 191.5h4M564 191.5h2M1039 191.5h2M239 192.5h3M359 192.5h30M566 192.5h2M1038 192.5h1M237 193.5h2M568 193.5h2M1036 193.5h2M234 194.5h3M570 194.5h2M1035 194.5h1M5 195.5h2M230 195.5h4M572 195.5h3M1034 195.5h1M7 196.5h2M73 196.5h27M141 196.5h5M227 196.5h3M575 196.5h4M1032 196.5h2M9 197.5h3M69 197.5h4M100 197.5h41M146 197.5h5M224 197.5h3M579 197.5h4M1031 197.5h1M12 198.5h2M64 198.5h5M151 198.5h11M222 198.5h2M583 198.5h3M1029 198.5h2M14 199.5h3M60 199.5h4M162 199.5h3M220 199.5h2M586 199.5h2M1028 199.5h1M17 200.5h2M49 200.5h11M165 200.5h3M209 200.5h11M588 200.5h3M1027 200.5h1M19 201.5h2M46 201.5h3M168 201.5h6M205 201.5h4M591 201.5h3M1026 201.5h1M21 202.5h2M43 202.5h3M174 202.5h31M594 202.5h2M1025 202.5h1M23 203.5h9M37 203.5h6M596 203.5h2M1024 203.5h1M32 204.5h5M598 204.5h2M1023 204.5h1M600 205.5h2M1022 205.5h1M602 206.5h2M1021 206.5h1M604 207.5h2M1020 207.5h1M606 208.5h2M1019 208.5h1M608 209.5h3M1018 209.5h1M611 210.5h2M1017 210.5h1M613 211.5h2M1016 211.5h1M615 212.5h2M1014 212.5h2M617 213.5h2M1013 213.5h1M619 214.5h2M1012 214.5h1M621 215.5h2M1010 215.5h2M623 216.5h2M1009 216.5h1M625 217.5h2M1008 217.5h1M627 218.5h2M1006 218.5h2M629 219.5h2M1005 219.5h1M631 220.5h2M1004 220.5h1M633 221.5h1M1003 221.5h1M634 222.5h1M1002 222.5h1M635 223.5h2M1001 223.5h1M637 224.5h1M999 224.5h2M638 225.5h1M998 225.5h1M639 226.5h2M997 226.5h1M641 227.5h1M996 227.5h1M642 228.5h1M995 228.5h1M643 229.5h2M994 229.5h1M645 230.5h2M993 230.5h1M647 231.5h4M991 231.5h2M651 232.5h4M990 232.5h1M655 233.5h9M989 233.5h1M664 234.5h8M988 234.5h1M672 235.5h2M987 235.5h1M674 236.5h2M986 236.5h1M676 237.5h2M985 237.5h1M678 238.5h1M984 238.5h1M679 239.5h1M983 239.5h1M680 240.5h1M982 240.5h1M681 241.5h1M981 241.5h1M682 242.5h1M980 242.5h1M682 243.5h1M979 243.5h1M683 244.5h1M978 244.5h1M684 245.5h1M977 245.5h1M685 246.5h1M976 246.5h1M686 247.5h1M976 247.5h1M687 248.5h1M975 248.5h1M688 249.5h1M974 249.5h1M689 250.5h1M974 250.5h1M690 251.5h1M973 251.5h1M691 252.5h1M972 252.5h1M692 253.5h1M971 253.5h1M693 254.5h1M971 254.5h1M694 255.5h1M970 255.5h1M695 256.5h1M969 256.5h1M696 257.5h1M968 257.5h1M696 258.5h1M967 258.5h1M697 259.5h1M965 259.5h2M697 260.5h1M964 260.5h1M698 261.5h1M963 261.5h1M698 262.5h1M962 262.5h1M699 263.5h1M961 263.5h1M699 264.5h1M960 264.5h1M700 265.5h1M958 265.5h2M700 266.5h1M956 266.5h2M701 267.5h1M955 267.5h1M701 268.5h1M953 268.5h2M702 269.5h1M951 269.5h2M702 270.5h1M949 270.5h2M703 271.5h1M947 271.5h2M703 272.5h1M945 272.5h2M704 273.5h1M943 273.5h2M704 274.5h1M941 274.5h2M705 275.5h1M939 275.5h2M705 276.5h1M938 276.5h1M706 277.5h1M937 277.5h1M706 278.5h1M935 278.5h2M707 279.5h1M934 279.5h1M707 280.5h1M931 280.5h3M708 281.5h1M926 281.5h5M708 282.5h1M923 282.5h3M709 283.5h1M921 283.5h2M709 284.5h1M919 284.5h2M710 285.5h1M917 285.5h2M710 286.5h1M915 286.5h2M711 287.5h1M913 287.5h2M711 288.5h1M911 288.5h2M712 289.5h1M909 289.5h2M712 290.5h1M905 290.5h4M713 291.5h1M897 291.5h8M714 292.5h1M893 292.5h4M714 293.5h1M891 293.5h2M715 294.5h1M889 294.5h2M715 295.5h1M887 295.5h2M716 296.5h1M886 296.5h1M716 297.5h1M885 297.5h1M717 298.5h1M884 298.5h1M718 299.5h1M883 299.5h1M718 300.5h1M882 300.5h1M719 301.5h1M881 301.5h1M719 302.5h1M880 302.5h1M720 303.5h1M879 303.5h1M721 304.5h1M878 304.5h1M721 305.5h1M877 305.5h1M722 306.5h1M876 306.5h1M722 307.5h1M875 307.5h1M723 308.5h1M874 308.5h1M723 309.5h1M873 309.5h1M724 310.5h1M872 310.5h1M725 311.5h1M871 311.5h1M726 312.5h1M870 312.5h1M726 313.5h1M869 313.5h1M727 314.5h1M868 314.5h1M728 315.5h1M867 315.5h1M729 316.5h1M866 316.5h1M730 317.5h1M864 317.5h2M730 318.5h1M862 318.5h2M731 319.5h1M860 319.5h2M732 320.5h1M858 320.5h2M733 321.5h2M856 321.5h2M735 322.5h1M854 322.5h2M736 323.5h1M852 323.5h2M737 324.5h1M851 324.5h1M738 325.5h1M850 325.5h1M739 326.5h1M849 326.5h1M740 327.5h1M848 327.5h1M741 328.5h1M847 328.5h1M742 329.5h1M846 329.5h1M743 330.5h1M845 330.5h1M744 331.5h1M844 331.5h1M745 332.5h1M843 332.5h1M746 333.5h1M842 333.5h1M747 334.5h1M841 334.5h1M748 335.5h1M840 335.5h1M749 336.5h1M840 336.5h1M750 337.5h1M839 337.5h1M751 338.5h1M838 338.5h1M752 339.5h1M837 339.5h1M753 340.5h1M836 340.5h1M754 341.5h1M835 341.5h1M755 342.5h1M834 342.5h1M756 343.5h1M834 343.5h1M757 344.5h1M833 344.5h1M758 345.5h1M832 345.5h1M759 346.5h1M831 346.5h1M760 347.5h1M831 347.5h1M761 348.5h1M830 348.5h1M762 349.5h1M829 349.5h1M763 350.5h1M828 350.5h1M764 351.5h1M828 351.5h1M765 352.5h1M827 352.5h1M766 353.5h1M826 353.5h1M767 354.5h1M825 354.5h1M768 355.5h1M824 355.5h1M769 356.5h2M823 356.5h1M771 357.5h1M822 357.5h1M772 358.5h2M822 358.5h1M774 359.5h1M821 359.5h1M775 360.5h2M820 360.5h1M777 361.5h1M819 361.5h1M778 362.5h2M818 362.5h1M780 363.5h1M816 363.5h2M781 364.5h2M814 364.5h2M783 365.5h1M812 365.5h2M784 366.5h2M810 366.5h2M786 367.5h1M808 367.5h2M787 368.5h2M806 368.5h2M789 369.5h2M803 369.5h3M791 370.5h4M799 370.5h4M795 371.5h4"/>
<path shape-rendering="crispEdges" fill="none" stroke="#ff0000" stroke-width="1" d="M1268 89.5h1M1267 90.5h1M1265 91.5h2M1264 92.5h1M1263 93.5h1M1261 94.5h2M1260 95.5h1M1258 96.5h2M1257 97.5h1M1256 98.5h1M1254 99.5h2M1229 100.5h8M1253 100.5h1M1227 101.5h2M1237 101.5h2M1251 101.5h2M1224 102.5h3M1239 102.5h4M1248 102.5h3M1220 103.5h4M1243 103.5h5M1216 104.5h4M1211 105.5h5M1200 106.5h11M1197 107.5h3M1195 108.5h2M1183 109.5h12M1182 110.5h1M1180 111.5h2M1179 112.5h1M1178 113.5h1M1177 114.5h1M1176 115.5h1M1175 116.5h1M1174 117.5h1M1173 118.5h1M1171 119.5h2M1169 120.5h2M1167 121.5h2M1166 122.5h1M1164 123.5h2M1162 124.5h2M1161 125.5h1M1159 126.5h2M1157 127.5h2M1156 128.5h1M1154 129.5h2M1153 130.5h1M1152 131.5h1M1150 132.5h2M1149 133.5h1M1148 134.5h1M1147 135.5h1M1146 136.5h1M1145 137.5h1M1143 138.5h2M1142 139.5h1M1141 140.5h1M1140 141.5h1M1139 142.5h1M1137 143.5h2M1136 144.5h1M1135 145.5h1M1133 146.5h2M1132 147.5h1M1131 148.5h1M1129 149.5h2M1128 150.5h1M1127 151.5h1M1125 152.5h2M1121 153.5h4M1118 154.5h3M1114 155.5h4M450 156.5h5M1112 156.5h2M446 157.5h4M455 157.5h6M1110 157.5h2M443 158.5h3M461 158.5h4M1108 158.5h2M441 159.5h2M465 159.5h5M1106 159.5h2M439 160.5h2M470 160.5h6M1104 160.5h2M437 161.5h2M476 161.5h2M1103 161.5h1M435 162.5h2M478 162.5h2M1101 162.5h2M433 163.5h2M480 163.5h3M1099 163.5h2M431 164.5h2M483 164.5h2M1097 164.5h2M429 165.5h2M485 165.5h3M1095 165.5h2M427 166.5h2M488 166.5h2M1012 166.5h6M1093 166.5h2M425 167.5h2M490 167.5h2M1011 167.5h1M1018 167.5h3M1091 167.5h2M423 168.5h2M492 168.5h2M1009 168.5h2M1021 168.5h4M1082 168.5h9M421 169.5h2M494 169.5h2M1008 169.5h1M1025 169.5h4M1080 169.5h2M419 170.5h2M496 170.5h2M1007 170.5h1M1029 170.5h2M1078 170.5h2M417 171.5h2M498 171.5h3M1006 171.5h1M1031 171.5h2M1075 171.5h3M415 172.5h2M501 172.5h2M1005 172.5h1M1033 172.5h2M1071 172.5h4M413 173.5h2M503 173.5h2M1004 173.5h1M1035 173.5h2M1067 173.5h4M411 174.5h2M505 174.5h2M1002 174.5h2M1037 174.5h3M1065 174.5h2M409 175.5h2M507 175.5h4M1001 175.5h1M1040 175.5h2M1063 175.5h2M407 176.5h2M511 176.5h5M1000 176.5h1M1042 176.5h2M1061 176.5h2M262 177.5h10M405 177.5h2M516 177.5h4M999 177.5h1M1044 177.5h2M1059 177.5h2M259 178.5h3M272 178.5h2M402 178.5h3M520 178.5h2M998 178.5h1M1046 178.5h4M1055 178.5h4M243 179.5h16M274 179.5h3M397 179.5h5M522 179.5h2M997 179.5h1M1050 179.5h5M240 180.5h3M277 180.5h3M393 180.5h4M524 180.5h2M996 180.5h1M236 181.5h4M280 181.5h3M389 181.5h4M526 181.5h1M995 181.5h1M232 182.5h4M283 182.5h3M386 182.5h3M527 182.5h2M994 182.5h1M78 183.5h5M229 183.5h3M286 183.5h3M383 183.5h3M529 183.5h2M993 183.5h1M75 184.5h3M83 184.5h6M227 184.5h2M289 184.5h2M381 184.5h2M531 184.5h1M992 184.5h1M73 185.5h2M89 185.5h4M225 185.5h2M291 185.5h3M379 185.5h2M532 185.5h2M991 185.5h1M72 186.5h1M93 186.5h2M223 186.5h2M294 186.5h2M377 186.5h2M534 186.5h1M990 186.5h1M71 187.5h1M95 187.5h2M221 187.5h2M296 187.5h2M375 187.5h2M535 187.5h1M989 187.5h1M69 188.5h2M97 188.5h2M219 188.5h2M298 188.5h2M374 188.5h1M536 188.5h1M988 188.5h1M68 189.5h1M99 189.5h2M215 189.5h4M300 189.5h2M372 189.5h2M537 189.5h1M988 189.5h1M66 190.5h2M101 190.5h3M212 190.5h3M302 190.5h3M370 190.5h2M538 190.5h1M987 190.5h1M64 191.5h2M104 191.5h3M208 191.5h4M305 191.5h3M368 191.5h2M539 191.5h1M987 191.5h1M62 192.5h2M107 192.5h3M205 192.5h3M308 192.5h3M366 192.5h2M540 192.5h1M986 192.5h1M61 193.5h1M110 193.5h2M202 193.5h3M311 193.5h2M364 193.5h2M541 193.5h1M986 193.5h1M59 194.5h2M112 194.5h2M200 194.5h2M313 194.5h2M360 194.5h4M542 194.5h1M985 194.5h1M58 195.5h1M114 195.5h2M198 195.5h2M315 195.5h2M357 195.5h3M543 195.5h1M985 195.5h1M56 196.5h2M116 196.5h1M196 196.5h2M317 196.5h2M353 196.5h4M544 196.5h1M984 196.5h1M54 197.5h2M117 197.5h1M194 197.5h2M319 197.5h3M349 197.5h4M545 197.5h1M984 197.5h1M52 198.5h2M118 198.5h1M192 198.5h2M322 198.5h5M342 198.5h7M546 198.5h1M983 198.5h1M50 199.5h2M119 199.5h1M189 199.5h3M327 199.5h15M547 199.5h1M983 199.5h1M47 200.5h3M120 200.5h1M187 200.5h2M548 200.5h2M982 200.5h1M45 201.5h2M121 201.5h1M185 201.5h2M550 201.5h2M982 201.5h1M43 202.5h2M122 202.5h1M183 202.5h2M552 202.5h2M981 202.5h1M40 203.5h3M123 203.5h2M181 203.5h2M554 203.5h2M981 203.5h1M5 204.5h5M37 204.5h3M125 204.5h1M179 204.5h2M556 204.5h2M980 204.5h1M10 205.5h7M33 205.5h4M126 205.5h2M178 205.5h1M558 205.5h2M980 205.5h1M17 206.5h2M29 206.5h4M128 206.5h3M176 206.5h2M560 206.5h1M979 206.5h1M19 207.5h10M131 207.5h3M175 207.5h1M561 207.5h2M979 207.5h1M134 208.5h41M563 208.5h1M978 208.5h1M564 209.5h2M978 209.5h1M566 210.5h1M977 210.5h1M567 211.5h2M977 211.5h1M569 212.5h1M976 212.5h1M570 213.5h1M976 213.5h1M571 214.5h2M975 214.5h1M573 215.5h2M975 215.5h1M575 216.5h2M974 216.5h1M577 217.5h3M974 217.5h1M580 218.5h27M973 218.5h1M607 219.5h2M973 219.5h1M609 220.5h2M972 220.5h1M611 221.5h2M972 221.5h1M613 222.5h2M971 222.5h1M615 223.5h4M971 223.5h1M619 224.5h4M970 224.5h1M623 225.5h3M970 225.5h1M626 226.5h2M969 226.5h1M628 227.5h1M969 227.5h1M629 228.5h1M968 228.5h1M630 229.5h2M968 229.5h1M632 230.5h1M967 230.5h1M633 231.5h1M967 231.5h1M634 232.5h1M966 232.5h1M635 233.5h1M966 233.5h1M635 234.5h1M965 234.5h1M636 235.5h1M965 235.5h1M637 236.5h1M964 236.5h1M638 237.5h1M964 237.5h1M639 238.5h1M963 238.5h1M640 239.5h1M963 239.5h1M641 240.5h2M962 240.5h1M643 241.5h1M961 241.5h1M644 242.5h1M961 242.5h1M645 243.5h2M960 243.5h1M647 244.5h4M960 244.5h1M651 245.5h3M959 245.5h1M654 246.5h2M959 246.5h1M656 247.5h2M958 247.5h1M658 248.5h2M958 248.5h1M660 249.5h11M957 249.5h1M671 250.5h1M957 250.5h1M672 251.5h1M956 251.5h1M673 252.5h1M956 252.5h1M674 253.5h2M955 253.5h1M676 254.5h2M954 254.5h1M678 255.5h1M953 255.5h1M679 256.5h1M952 256.5h1M679 257.5h1M951 257.5h1M680 258.5h1M950 258.5h1M681 259.5h1M949 259.5h1M682 260.5h1M948 260.5h1M682 261.5h1M946 261.5h2M683 262.5h1M945 262.5h1M684 263.5h1M944 263.5h1M684 264.5h1M942 264.5h2M685 265.5h1M941 265.5h1M685 266.5h1M939 266.5h2M686 267.5h1M937 267.5h2M686 268.5h1M935 268.5h2M687 269.5h1M933 269.5h2M687 270.5h1M928 270.5h5M688 271.5h1M923 271.5h5M688 272.5h1M921 272.5h2M689 273.5h1M920 273.5h1M689 274.5h1M918 274.5h2M690 275.5h1M917 275.5h1M690 276.5h1M915 276.5h2M691 277.5h1M890 277.5h6M914 277.5h1M691 278.5h1M886 278.5h4M896 278.5h2M912 278.5h2M692 279.5h1M884 279.5h2M898 279.5h2M910 279.5h2M692 280.5h1M882 280.5h2M900 280.5h3M909 280.5h1M693 281.5h1M880 281.5h2M903 281.5h2M907 281.5h2M693 282.5h1M878 282.5h2M905 282.5h2M694 283.5h1M877 283.5h1M694 284.5h1M876 284.5h1M695 285.5h1M874 285.5h2M695 286.5h1M873 286.5h1M696 287.5h1M872 287.5h1M696 288.5h1M870 288.5h2M697 289.5h1M869 289.5h1M697 290.5h1M867 290.5h2M697 291.5h1M865 291.5h2M698 292.5h1M863 292.5h2M698 293.5h1M861 293.5h2M699 294.5h1M858 294.5h3M699 295.5h1M855 295.5h3M700 296.5h1M853 296.5h2M700 297.5h1M851 297.5h2M700 298.5h1M849 298.5h2M701 299.5h1M847 299.5h2M701 300.5h1M845 300.5h2M701 301.5h1M843 301.5h2M702 302.5h1M842 302.5h1M702 303.5h1M840 303.5h2M702 304.5h1M839 304.5h1M702 305.5h1M837 305.5h2M703 306.5h1M836 306.5h1M703 307.5h1M834 307.5h2M703 308.5h1M832 308.5h2M704 309.5h1M830 309.5h2M704 310.5h1M828 310.5h2M704 311.5h1M826 311.5h2M705 312.5h1M824 312.5h2M705 313.5h1M823 313.5h1M705 314.5h1M821 314.5h2M705 315.5h1M820 315.5h1M706 316.5h1M819 316.5h1M706 317.5h1M818 317.5h1M706 318.5h1M818 318.5h1M707 319.5h1M817 319.5h1M707 320.5h1M816 320.5h1M707 321.5h1M815 321.5h1M707 322.5h1M814 322.5h1M708 323.5h1M814 323.5h1M708 324.5h1M813 324.5h1M708 325.5h1M812 325.5h1M708 326.5h1M812 326.5h1M709 327.5h1M811 327.5h1M709 328.5h1M811 328.5h1M709 329.5h1M811 329.5h1M709 330.5h1M810 330.5h1M710 331.5h1M810 331.5h1M710 332.5h1M809 332.5h1M710 333.5h1M808 333.5h1M710 334.5h1M807 334.5h1M711 335.5h1M806 335.5h1M711 336.5h1M806 336.5h1M711 337.5h1M805 337.5h1M711 338.5h1M804 338.5h1M712 339.5h1M803 339.5h1M712 340.5h1M802 340.5h1M712 341.5h1M800 341.5h2M712 342.5h1M799 342.5h1M713 343.5h1M798 343.5h1M713 344.5h1M796 344.5h2M713 345.5h1M795 345.5h1M713 346.5h1M794 346.5h1M714 347.5h1M793 347.5h1M714 348.5h1M792 348.5h1M714 349.5h1M792 349.5h1M714 350.5h1M791 350.5h1M715 351.5h1M790 351.5h1M715 352.5h1M789 352.5h1M715 353.5h1M788 353.5h1M716 354.5h1M787 354.5h1M716 355.5h1M786 355.5h1M716 356.5h1M786 356.5h1M716 357.5h1M785 357.5h1M717 358.5h1M784 358.5h1M717 359.5h1M783 359.5h1M717 360.5h1M782 360.5h1M718 361.5h1M782 361.5h1M718 362.5h1M781 362.5h1M718 363.5h1M780 363.5h1M718 364.5h1M779 364.5h1M719 365.5h1M779 365.5h1M719 366.5h1M778 366.5h1M719 367.5h1M778 367.5h1M720 368.5h1M777 368.5h1M720 369.5h1M776 369.5h1M720 370.5h1M776 370.5h1M720 371.5h1M775 371.5h1M721 372.5h1M775 372.5h1M721 373.5h1M774 373.5h1M721 374.5h1M774 374.5h1M722 375.5h1M773 375.5h1M722 376.5h1M773 376.5h1M722 377.5h1M772 377.5h1M722 378.5h1M772 378.5h1M723 379.5h1M771 379.5h1M723 380.5h1M771 380.5h1M723 381.5h1M770 381.5h1M724 382.5h1M770 382.5h1M724 383.5h1M769 383.5h1M725 384.5h1M769 384.5h1M725 385.5h1M768 385.5h1M726 386.5h1M768 386.5h1M726 387.5h1M767 387.5h1M726 388.5h1M767 388.5h1M727 389.5h1M766 389.5h1M727 390.5h1M765 390.5h1M728 391.5h1M765 391.5h1M728 392.5h1M764 392.5h1M729 393.5h1M763 393.5h1M729 394.5h1M761 394.5h2M730 395.5h1M760 395.5h1M731 396.5h1M759 396.5h1M731 397.5h1M758 397.5h1M732 398.5h1M756 398.5h2M732 399.5h1M755 399.5h1M733 400.5h4M753 400.5h2M737 401.5h8M751 401.5h2M745 402.5h6"/>
<path shape-rendering="crispEdges" fill="none" stroke="#ffa500" stroke-width="1" d="M1269 70.5h1M1269 71.5h1M1268 72.5h1M1268 73.5h1M1267 74.5h1M1267 75.5h1M1266 76.5h1M1266 77.5h1M1265 78.5h1M1265 79.5h1M1264 80.5h1M1264 81.5h1M1263 82.5h1M1263 83.5h1M1262 84.5h1M1262 85.5h1M1261 86.5h1M1261 87.5h1M1260 88.5h1M1260 89.5h1M1259 90.5h1M1259 91.5h1M1258 92.5h1M1258 93.5h1M1257 94.5h1M1231 95.5h5M1257 95.5h1M1228 96.5h3M1236 96.5h3M1256 96.5h1M1227 97.5h1M1239 97.5h2M1256 97.5h1M1226 98.5h1M1241 98.5h1M1255 98.5h1M1224 99.5h2M1242 99.5h1M1255 99.5h1M1193 100.5h3M1223 100.5h1M1243 100.5h2M1254 100.5h1M1191 101.5h2M1196 101.5h3M1222 101.5h1M1245 101.5h1M1254 101.5h1M1189 102.5h2M1199 102.5h1M1220 102.5h2M1246 102.5h2M1253 102.5h1M1187 103.5h2M1200 103.5h1M1218 103.5h2M1248 103.5h2M1251 103.5h2M1185 104.5h2M1201 104.5h1M1216 104.5h2M1250 104.5h1M1184 105.5h1M1202 105.5h1M1212 105.5h4M1182 106.5h2M1203 106.5h9M1181 107.5h1M1164 108.5h9M1179 108.5h2M1163 109.5h1M1173 109.5h2M1177 109.5h2M1161 110.5h2M1175 110.5h2M1160 111.5h1M1158 112.5h2M1156 113.5h2M1154 114.5h2M1152 115.5h2M1148 116.5h4M1146 117.5h2M1144 118.5h2M1143 119.5h1M1142 120.5h1M1140 121.5h2M1139 122.5h1M1138 123.5h1M1137 124.5h1M1137 125.5h1M1136 126.5h1M1136 127.5h1M1135 128.5h1M1134 129.5h1M1134 130.5h1M1133 131.5h1M1133 132.5h1M1132 133.5h1M1132 134.5h1M1131 135.5h1M1131 136.5h1M1130 137.5h1M1130 138.5h1M1129 139.5h1M1129 140.5h1M1128 141.5h1M1128 142.5h1M1127 143.5h1M1125 144.5h2M441 145.5h5M1124 145.5h1M437 146.5h4M446 146.5h2M1122 146.5h2M436 147.5h1M448 147.5h2M1120 147.5h2M435 148.5h1M450 148.5h1M1118 148.5h2M434 149.5h1M450 149.5h1M1115 149.5h3M433 150.5h1M451 150.5h1M1113 150.5h2M432 151.5h1M452 151.5h1M989 151.5h1M1110 151.5h3M431 152.5h1M453 152.5h1M987 152.5h2M990 152.5h1M1108 152.5h2M430 153.5h1M453 153.5h1M985 153.5h2M991 153.5h1M1106 153.5h2M429 154.5h1M454 154.5h1M983 154.5h2M992 154.5h1M1104 154.5h2M428 155.5h1M455 155.5h1M982 155.5h1M993 155.5h1M1089 155.5h5M1100 155.5h4M427 156.5h1M455 156.5h1M981 156.5h1M994 156.5h1M1085 156.5h4M1094 156.5h6M426 157.5h1M456 157.5h1M980 157.5h1M995 157.5h1M1083 157.5h2M425 158.5h1M456 158.5h1M979 158.5h1M996 158.5h1M1081 158.5h2M424 159.5h1M457 159.5h1M979 159.5h1M997 159.5h1M1080 159.5h1M423 160.5h1M457 160.5h1M978 160.5h1M997 160.5h1M1079 160.5h1M422 161.5h1M458 161.5h1M977 161.5h1M998 161.5h1M1077 161.5h2M420 162.5h2M458 162.5h1M976 162.5h1M999 162.5h1M1076 162.5h1M419 163.5h1M459 163.5h1M976 163.5h1M999 163.5h1M1075 163.5h1M418 164.5h1M459 164.5h1M975 164.5h1M1000 164.5h1M1074 164.5h1M416 165.5h2M460 165.5h1M975 165.5h1M1000 165.5h1M1073 165.5h1M414 166.5h2M460 166.5h1M974 166.5h1M1001 166.5h1M1072 166.5h1M412 167.5h2M461 167.5h1M974 167.5h1M1002 167.5h1M1071 167.5h1M411 168.5h1M462 168.5h1M489 168.5h2M974 168.5h1M1002 168.5h1M1070 168.5h1M410 169.5h1M462 169.5h1M486 169.5h3M491 169.5h1M973 169.5h1M1003 169.5h1M1069 169.5h1M408 170.5h2M463 170.5h1M484 170.5h2M492 170.5h1M973 170.5h1M1003 170.5h1M1068 170.5h1M238 171.5h11M407 171.5h1M464 171.5h1M483 171.5h1M493 171.5h2M973 171.5h1M1004 171.5h1M1066 171.5h2M235 172.5h3M249 172.5h3M406 172.5h1M464 172.5h1M481 172.5h2M495 172.5h1M972 172.5h1M1004 172.5h1M1065 172.5h1M234 173.5h1M252 173.5h2M404 173.5h2M465 173.5h1M480 173.5h1M496 173.5h2M972 173.5h1M1005 173.5h1M1043 173.5h3M1064 173.5h1M232 174.5h2M254 174.5h1M402 174.5h2M466 174.5h2M479 174.5h1M498 174.5h2M971 174.5h1M1005 174.5h1M1037 174.5h6M1046 174.5h2M1062 174.5h2M231 175.5h1M255 175.5h2M400 175.5h2M468 175.5h2M477 175.5h2M500 175.5h3M971 175.5h1M1006 175.5h1M1033 175.5h4M1048 175.5h2M1060 175.5h2M230 176.5h1M257 176.5h1M397 176.5h3M470 176.5h2M474 176.5h3M503 176.5h2M971 176.5h1M1007 176.5h1M1031 176.5h2M1050 176.5h1M1058 176.5h2M229 177.5h1M258 177.5h1M380 177.5h8M393 177.5h4M472 177.5h2M505 177.5h2M971 177.5h1M1007 177.5h1M1030 177.5h1M1051 177.5h1M1056 177.5h2M59 178.5h16M228 178.5h1M259 178.5h1M379 178.5h1M388 178.5h5M507 178.5h1M970 178.5h1M1008 178.5h1M1029 178.5h1M1052 178.5h1M1054 178.5h2M57 179.5h2M75 179.5h3M228 179.5h1M260 179.5h2M377 179.5h2M508 179.5h1M970 179.5h1M1008 179.5h1M1027 179.5h2M1053 179.5h1M54 180.5h3M78 180.5h1M227 180.5h1M262 180.5h1M376 180.5h1M509 180.5h2M970 180.5h1M1009 180.5h18M52 181.5h2M79 181.5h1M226 181.5h1M263 181.5h1M375 181.5h1M511 181.5h1M970 181.5h1M50 182.5h2M79 182.5h1M225 182.5h1M264 182.5h1M374 182.5h1M512 182.5h2M969 182.5h1M49 183.5h1M80 183.5h1M194 183.5h7M224 183.5h1M265 183.5h1M372 183.5h2M514 183.5h2M969 183.5h1M47 184.5h2M81 184.5h1M193 184.5h1M201 184.5h3M222 184.5h2M266 184.5h2M371 184.5h1M516 184.5h2M969 184.5h1M46 185.5h1M82 185.5h1M193 185.5h1M204 185.5h3M221 185.5h1M268 185.5h1M370 185.5h1M518 185.5h2M969 185.5h1M45 186.5h1M83 186.5h1M192 186.5h1M207 186.5h2M219 186.5h2M269 186.5h1M368 186.5h2M520 186.5h1M968 186.5h1M44 187.5h1M84 187.5h1M191 187.5h1M209 187.5h4M217 187.5h2M270 187.5h2M350 187.5h8M366 187.5h2M521 187.5h1M968 187.5h1M44 188.5h1M84 188.5h1M190 188.5h1M213 188.5h4M272 188.5h1M349 188.5h1M358 188.5h3M364 188.5h2M521 188.5h1M968 188.5h1M43 189.5h1M85 189.5h1M190 189.5h1M273 189.5h2M347 189.5h2M361 189.5h3M522 189.5h1M968 189.5h1M42 190.5h1M86 190.5h1M189 190.5h1M275 190.5h2M346 190.5h1M523 190.5h1M967 190.5h1M42 191.5h1M87 191.5h1M188 191.5h1M277 191.5h2M345 191.5h1M524 191.5h1M967 191.5h1M41 192.5h1M88 192.5h1M187 192.5h1M279 192.5h2M344 192.5h1M525 192.5h1M967 192.5h1M40 193.5h1M88 193.5h1M186 193.5h1M281 193.5h5M292 193.5h5M343 193.5h1M526 193.5h1M967 193.5h1M40 194.5h1M89 194.5h1M185 194.5h1M286 194.5h6M297 194.5h2M342 194.5h1M527 194.5h1M966 194.5h1M39 195.5h1M90 195.5h1M184 195.5h1M299 195.5h3M340 195.5h2M528 195.5h1M966 195.5h1M38 196.5h1M91 196.5h1M183 196.5h1M302 196.5h3M339 196.5h1M528 196.5h1M966 196.5h1M38 197.5h1M92 197.5h1M182 197.5h1M305 197.5h3M338 197.5h1M529 197.5h1M966 197.5h1M37 198.5h1M92 198.5h1M181 198.5h1M308 198.5h3M337 198.5h1M530 198.5h1M965 198.5h1M37 199.5h1M93 199.5h1M179 199.5h2M311 199.5h4M335 199.5h2M531 199.5h1M965 199.5h1M36 200.5h1M94 200.5h1M177 200.5h2M315 200.5h3M334 200.5h1M532 200.5h1M965 200.5h1M35 201.5h1M95 201.5h1M168 201.5h4M175 201.5h2M318 201.5h2M332 201.5h2M533 201.5h1M965 201.5h1M35 202.5h1M96 202.5h2M166 202.5h2M172 202.5h3M320 202.5h2M327 202.5h5M533 202.5h1M964 202.5h1M34 203.5h1M98 203.5h2M165 203.5h1M322 203.5h5M534 203.5h1M964 203.5h1M34 204.5h1M100 204.5h2M163 204.5h2M535 204.5h1M964 204.5h1M33 205.5h1M102 205.5h13M161 205.5h2M535 205.5h1M963 205.5h1M32 206.5h1M115 206.5h2M159 206.5h2M536 206.5h1M963 206.5h1M5 207.5h3M31 207.5h1M117 207.5h2M157 207.5h2M537 207.5h1M963 207.5h1M8 208.5h4M31 208.5h1M119 208.5h1M155 208.5h2M538 208.5h1M963 208.5h1M12 209.5h2M30 209.5h1M120 209.5h2M151 209.5h4M538 209.5h1M962 209.5h1M14 210.5h2M29 210.5h1M122 210.5h1M140 210.5h11M539 210.5h1M962 210.5h1M16 211.5h2M27 211.5h2M123 211.5h1M136 211.5h4M540 211.5h1M962 211.5h1M18 212.5h1M25 212.5h2M124 212.5h1M131 212.5h5M540 212.5h1M961 212.5h1M19 213.5h2M23 213.5h2M125 213.5h6M541 213.5h1M961 213.5h1M21 214.5h2M542 214.5h1M961 214.5h1M543 215.5h1M590 215.5h6M960 215.5h1M544 216.5h2M559 216.5h9M587 216.5h3M596 216.5h4M960 216.5h1M546 217.5h1M557 217.5h2M568 217.5h4M585 217.5h2M600 217.5h2M960 217.5h1M547 218.5h2M556 218.5h1M572 218.5h3M584 218.5h1M602 218.5h1M960 218.5h1M549 219.5h3M554 219.5h2M575 219.5h4M582 219.5h2M603 219.5h1M959 219.5h1M552 220.5h2M579 220.5h3M604 220.5h2M959 220.5h1M606 221.5h1M959 221.5h1M607 222.5h1M958 222.5h1M608 223.5h1M958 223.5h1M608 224.5h1M958 224.5h1M609 225.5h1M958 225.5h1M610 226.5h1M957 226.5h1M611 227.5h1M957 227.5h1M611 228.5h1M957 228.5h1M612 229.5h1M957 229.5h1M613 230.5h1M956 230.5h1M614 231.5h1M956 231.5h1M615 232.5h1M956 232.5h1M616 233.5h1M956 233.5h1M617 234.5h2M955 234.5h1M619 235.5h1M955 235.5h1M620 236.5h1M954 236.5h1M621 237.5h1M954 237.5h1M622 238.5h1M953 238.5h1M623 239.5h1M668 239.5h3M952 239.5h1M624 240.5h2M666 240.5h2M671 240.5h1M951 240.5h1M626 241.5h1M665 241.5h1M671 241.5h1M951 241.5h1M627 242.5h1M665 242.5h1M672 242.5h1M950 242.5h1M628 243.5h2M664 243.5h1M673 243.5h1M949 243.5h1M630 244.5h1M663 244.5h1M673 244.5h1M948 244.5h1M631 245.5h1M662 245.5h1M674 245.5h1M948 245.5h1M632 246.5h1M662 246.5h1M675 246.5h1M947 246.5h1M633 247.5h1M661 247.5h1M675 247.5h1M946 247.5h1M633 248.5h1M660 248.5h1M676 248.5h1M945 248.5h1M634 249.5h1M659 249.5h1M676 249.5h1M945 249.5h1M635 250.5h1M659 250.5h1M677 250.5h1M944 250.5h1M636 251.5h1M658 251.5h1M677 251.5h1M943 251.5h1M636 252.5h1M657 252.5h1M677 252.5h1M942 252.5h1M637 253.5h1M657 253.5h1M678 253.5h1M942 253.5h1M638 254.5h1M656 254.5h1M678 254.5h1M941 254.5h1M638 255.5h1M655 255.5h1M678 255.5h1M939 255.5h2M639 256.5h1M654 256.5h1M679 256.5h1M937 256.5h2M640 257.5h1M654 257.5h1M679 257.5h1M927 257.5h4M935 257.5h2M641 258.5h1M653 258.5h1M679 258.5h1M925 258.5h2M931 258.5h4M641 259.5h1M651 259.5h2M680 259.5h1M924 259.5h1M642 260.5h1M650 260.5h1M680 260.5h1M924 260.5h1M643 261.5h1M649 261.5h1M680 261.5h1M923 261.5h1M644 262.5h1M647 262.5h2M680 262.5h1M922 262.5h1M644 263.5h1M646 263.5h1M681 263.5h1M921 263.5h1M645 264.5h1M681 264.5h1M921 264.5h1M681 265.5h1M920 265.5h1M681 266.5h1M919 266.5h1M681 267.5h1M919 267.5h1M682 268.5h1M918 268.5h1M682 269.5h1M889 269.5h1M918 269.5h1M682 270.5h1M887 270.5h2M890 270.5h2M917 270.5h1M682 271.5h1M886 271.5h1M892 271.5h2M917 271.5h1M682 272.5h1M884 272.5h2M894 272.5h1M916 272.5h1M682 273.5h1M883 273.5h1M894 273.5h1M916 273.5h1M683 274.5h1M852 274.5h2M882 274.5h1M895 274.5h1M915 274.5h1M683 275.5h1M850 275.5h2M854 275.5h1M881 275.5h1M896 275.5h1M915 275.5h1M683 276.5h1M849 276.5h1M855 276.5h1M881 276.5h1M897 276.5h1M914 276.5h1M683 277.5h1M848 277.5h1M856 277.5h1M880 277.5h1M897 277.5h1M913 277.5h1M683 278.5h1M848 278.5h1M857 278.5h1M879 278.5h1M898 278.5h1M913 278.5h1M683 279.5h1M847 279.5h1M858 279.5h1M878 279.5h1M899 279.5h1M912 279.5h1M683 280.5h1M846 280.5h1M859 280.5h1M878 280.5h1M900 280.5h1M912 280.5h1M683 281.5h1M845 281.5h1M860 281.5h1M877 281.5h1M901 281.5h1M911 281.5h1M684 282.5h1M845 282.5h1M861 282.5h1M876 282.5h1M901 282.5h1M911 282.5h1M684 283.5h1M844 283.5h1M862 283.5h1M875 283.5h1M902 283.5h1M910 283.5h1M684 284.5h1M844 284.5h1M863 284.5h1M874 284.5h1M903 284.5h1M910 284.5h1M684 285.5h1M843 285.5h1M864 285.5h1M873 285.5h1M904 285.5h6M684 286.5h1M843 286.5h1M864 286.5h1M872 286.5h1M684 287.5h1M842 287.5h1M865 287.5h1M871 287.5h1M684 288.5h1M842 288.5h1M866 288.5h1M870 288.5h1M684 289.5h1M842 289.5h1M867 289.5h1M869 289.5h1M685 290.5h1M841 290.5h1M868 290.5h1M685 291.5h1M841 291.5h1M685 292.5h1M840 292.5h1M685 293.5h1M840 293.5h1M685 294.5h1M840 294.5h1M685 295.5h1M839 295.5h1M685 296.5h1M839 296.5h1M685 297.5h1M838 297.5h1M686 298.5h1M838 298.5h1M686 299.5h1M838 299.5h1M686 300.5h1M837 300.5h1M686 301.5h1M837 301.5h1M686 302.5h1M836 302.5h1M686 303.5h1M836 303.5h1M686 304.5h1M835 304.5h1M686 305.5h1M796 305.5h4M835 305.5h1M687 306.5h1M794 306.5h2M800 306.5h5M834 306.5h1M687 307.5h1M794 307.5h1M805 307.5h3M834 307.5h1M687 308.5h1M793 308.5h1M808 308.5h2M832 308.5h2M687 309.5h1M793 309.5h1M810 309.5h2M828 309.5h4M687 310.5h1M792 310.5h1M812 310.5h2M825 310.5h3M687 311.5h1M792 311.5h1M814 311.5h2M821 311.5h4M687 312.5h1M791 312.5h1M816 312.5h5M688 313.5h1M791 313.5h1M688 314.5h1M790 314.5h1M688 315.5h1M790 315.5h1M688 316.5h1M789 316.5h1M689 317.5h1M789 317.5h1M689 318.5h1M788 318.5h1M689 319.5h1M788 319.5h1M689 320.5h1M788 320.5h1M690 321.5h1M787 321.5h1M690 322.5h1M787 322.5h1M690 323.5h1M787 323.5h1M690 324.5h1M786 324.5h1M691 325.5h1M786 325.5h1M691 326.5h1M785 326.5h1M691 327.5h1M785 327.5h1M691 328.5h1M785 328.5h1M691 329.5h1M784 329.5h1M692 330.5h1M784 330.5h1M692 331.5h1M784 331.5h1M692 332.5h1M783 332.5h1M692 333.5h1M783 333.5h1M693 334.5h1M783 334.5h1M693 335.5h1M782 335.5h1M693 336.5h1M782 336.5h1M693 337.5h1M782 337.5h1M693 338.5h1M781 338.5h1M694 339.5h1M781 339.5h1M694 340.5h1M781 340.5h1M694 341.5h1M780 341.5h1M694 342.5h1M780 342.5h1M695 343.5h1M780 343.5h1M695 344.5h1M779 344.5h1M695 345.5h1M779 345.5h1M695 346.5h1M779 346.5h1M695 347.5h1M778 347.5h1M696 348.5h1M778 348.5h1M696 349.5h1M778 349.5h1M696 350.5h1M778 350.5h1M696 351.5h1M777 351.5h1M696 352.5h1M777 352.5h1M697 353.5h1M777 353.5h1M697 354.5h1M777 354.5h1M697 355.5h1M776 355.5h1M697 356.5h1M776 356.5h1M697 357.5h1M776 357.5h1M698 358.5h1M776 358.5h1M698 359.5h1M776 359.5h1M698 360.5h1M775 360.5h1M698 361.5h1M749 361.5h1M775 361.5h1M698 362.5h1M748 362.5h1M750 362.5h1M775 362.5h1M699 363.5h1M747 363.5h1M751 363.5h1M775 363.5h1M699 364.5h1M746 364.5h1M752 364.5h1M774 364.5h1M699 365.5h1M745 365.5h1M752 365.5h1M774 365.5h1M699 366.5h1M745 366.5h1M753 366.5h1M774 366.5h1M699 367.5h1M744 367.5h1M754 367.5h1M774 367.5h1M700 368.5h1M744 368.5h1M754 368.5h1M773 368.5h1M700 369.5h1M743 369.5h1M755 369.5h1M773 369.5h1M700 370.5h1M743 370.5h1M755 370.5h1M772 370.5h1M700 371.5h1M743 371.5h1M756 371.5h1M772 371.5h1M700 372.5h1M742 372.5h1M756 372.5h1M772 372.5h1M701 373.5h1M742 373.5h1M757 373.5h1M771 373.5h1M701 374.5h1M741 374.5h1M757 374.5h1M771 374.5h1M701 375.5h1M741 375.5h1M758 375.5h1M770 375.5h1M701 376.5h1M740 376.5h1M758 376.5h1M770 376.5h1M701 377.5h1M740 377.5h1M759 377.5h1M769 377.5h1M702 378.5h1M740 378.5h1M759 378.5h1M769 378.5h1M702 379.5h1M739 379.5h1M760 379.5h1M768 379.5h1M702 380.5h1M739 380.5h1M761 380.5h1M767 380.5h1M702 381.5h1M739 381.5h1M762 381.5h2M767 381.5h1M702 382.5h1M739 382.5h1M764 382.5h1M766 382.5h1M703 383.5h1M738 383.5h1M765 383.5h1M703 384.5h1M738 384.5h1M703 385.5h1M738 385.5h1M703 386.5h1M738 386.5h1M703 387.5h1M737 387.5h1M704 388.5h1M737 388.5h1M704 389.5h1M737 389.5h1M704 390.5h1M736 390.5h1M704 391.5h1M736 391.5h1M704 392.5h1M736 392.5h1M705 393.5h1M736 393.5h1M705 394.5h1M735 394.5h1M705 395.5h1M735 395.5h1M705 396.5h1M735 396.5h1M705 397.5h1M735 397.5h1M706 398.5h1M734 398.5h1M706 399.5h1M734 399.5h1M706 400.5h1M734 400.5h1M706 401.5h1M734 401.5h1M706 402.5h1M734 402.5h1M707 403.5h1M733 403.5h1M707 404.5h1M733 404.5h1M707 405.5h1M733 405.5h1M707 406.5h1M733 406.5h1M707 407.5h1M733 407.5h1M708 408.5h1M732 408.5h1M708 409.5h1M732 409.5h1M708 410.5h1M732 410.5h1M708 411.5h1M732 411.5h1M708 412.5h1M732 412.5h1M709 413.5h1M731 413.5h1M709 414.5h1M731 414.5h1M709 415.5h1M731 415.5h1M709 416.5h1M731 416.5h1M709 417.5h1M731 417.5h1M710 418.5h1M730 418.5h1M710 419.5h1M730 419.5h1M710 420.5h1M730 420.5h1M710 421.5h1M730 421.5h1M710 422.5h1M730 422.5h1M711 423.5h1M729 423.5h1M711 424.5h1M729 424.5h1M711 425.5h1M729 425.5h1M711 426.5h1M728 426.5h1M712 427.5h1M728 427.5h1M712 428.5h1M727 428.5h1M712 429.5h1M726 429.5h1M713 430.5h1M725 430.5h1M713 431.5h1M725 431.5h1M713 432.5h1M724 432.5h1M714 433.5h1M723 433.5h1M714 434.5h1M723 434.5h1M715 435.5h1M722 435.5h1M715 436.5h1M721 436.5h1M715 437.5h1M721 437.5h1M716 438.5h1M720 438.5h1M716 439.5h1M719 439.5h1M716 440.5h1M718 440.5h1M717 441.5h2M717 442.5h1"/>
<g shape-rendering="crispEdges">
<rect x="5" y="44" width="1592" height="2" fill="#ff0000"/>
<rect x="4" y="42" width="6" height="6" fill="#ff0000"/>
<rect x="6" y="44" width="2" height="2" fill="#fff"/>
<rect x="1591" y="42" width="6" height="6" fill="#ff0000"/>
<rect x="1593" y="44" width="2" height="2" fill="#fff"/>
<rect x="5" y="69" width="1592" height="2" fill="#ff0000"/>
<rect x="4" y="67" width="6" height="6" fill="#ff0000"/>
<rect x="6" y="69" width="2" height="2" fill="#fff"/>
<rect x="1591" y="67" width="6" height="6" fill="#ff0000"/>
<rect x="1593" y="69" width="2" height="2" fill="#fff"/>
<rect x="5" y="94" width="1592" height="2" fill="#00ff00"/>
<rect x="4" y="92" width="6" height="6" fill="#00ff00"/>
<rect x="6" y="94" width="2" height="2" fill="#fff"/>
<rect x="1591" y="92" width="6" height="6" fill="#00ff00"/>
<rect x="1593" y="94" width="2" height="2" fill="#fff"/>
<rect x="5" y="120" width="1592" height="2" fill="#0000ff"/>
<rect x="4" y="118" width="6" height="6" fill="#0000ff"/>
<rect x="6" y="120" width="2" height="2" fill="#fff"/>
<rect x="1591" y="118" width="6" height="6" fill="#0000ff"/>
<rect x="1593" y="120" width="2" height="2" fill="#fff"/>
<rect x="5" y="145" width="1592" height="2" fill="#0000ff"/>
<rect x="4" y="143" width="6" height="6" fill="#0000ff"/>
<rect x="6" y="145" width="2" height="2" fill="#fff"/>
<rect x="1591" y="143" width="6" height="6" fill="#0000ff"/>
<rect x="1593" y="145" width="2" height="2" fill="#fff"/>
<rect x="5" y="169" width="1592" height="2" fill="#0000ff"/>
</g>
<g shape-rendering="crispEdges">
<rect x="29" y="0" width="1" height="22" fill="#a0a0a0"/><rect x="30" y="0" width="1" height="22" fill="#ffffff"/>
<rect x="33" y="0" width="3" height="1" fill="#b0b0b0"/>
<rect x="33" y="2" width="3" height="1" fill="#b0b0b0"/>
<rect x="33" y="4" width="3" height="1" fill="#b0b0b0"/>
<rect x="33" y="6" width="3" height="1" fill="#b0b0b0"/>
<rect x="33" y="8" width="3" height="1" fill="#b0b0b0"/>
<rect x="33" y="10" width="3" height="1" fill="#b0b0b0"/>
<rect x="33" y="12" width="3" height="1" fill="#b0b0b0"/>
<rect x="33" y="14" width="3" height="1" fill="#b0b0b0"/>
<rect x="33" y="16" width="3" height="1" fill="#b0b0b0"/>
<rect x="33" y="18" width="3" height="1" fill="#b0b0b0"/>
<rect x="207" y="0" width="25" height="20" fill="#f8f8f8"/>
<rect x="207" y="0" width="1" height="20" fill="#a0a0a0"/>
<rect x="232" y="0" width="1" height="21" fill="#ffffff"/><rect x="207" y="20" width="26" height="1" fill="#ffffff"/>
<rect x="290" y="0" width="1" height="22" fill="#a0a0a0"/><rect x="291" y="0" width="1" height="22" fill="#ffffff"/>
</g>
<path d="M0 4 L1.5 4 L4 7.3 L1 8.6 L0 8.6Z" fill="#505050"/><path d="M6 8.3 L1.5 13.5 L0 11.5" stroke="#505050" stroke-width="1.3" fill="none"/><path d="M4 13.3 L6 12.2 L9 12.2 L11.3 13.3 L7.6 17.2Z" fill="#505050"/>
<path d="M18 9 L23 9 L20.5 12 Z" fill="#000"/>
<text x="44.8" y="13.6" font-size="9.3" fill="#3c3c3c" stroke="#3c3c3c" stroke-width="0.15" text-anchor="start" textLength="12.2" lengthAdjust="spacingAndGlyphs">M1</text>
<text x="72.7" y="13.6" font-size="9.3" fill="#3c3c3c" stroke="#3c3c3c" stroke-width="0.15" text-anchor="start" textLength="12.5" lengthAdjust="spacingAndGlyphs">M5</text>
<text x="98.7" y="13.6" font-size="9.3" fill="#3c3c3c" stroke="#3c3c3c" stroke-width="0.15" text-anchor="start" textLength="17.5" lengthAdjust="spacingAndGlyphs">M15</text>
<text x="126.7" y="13.6" font-size="9.3" fill="#3c3c3c" stroke="#3c3c3c" stroke-width="0.15" text-anchor="start" textLength="17.3" lengthAdjust="spacingAndGlyphs">M30</text>
<text x="157.8" y="13.6" font-size="9.3" fill="#3c3c3c" stroke="#3c3c3c" stroke-width="0.15" text-anchor="start" textLength="11.3" lengthAdjust="spacingAndGlyphs">H1</text>
<text x="184.7" y="13.6" font-size="9.3" fill="#3c3c3c" stroke="#3c3c3c" stroke-width="0.15" text-anchor="start" textLength="12.3" lengthAdjust="spacingAndGlyphs">H4</text>
<text x="213.5" y="13.6" font-size="9.3" fill="#3c3c3c" stroke="#3c3c3c" stroke-width="0.15" text-anchor="start" textLength="11.6" lengthAdjust="spacingAndGlyphs">D1</text>
<text x="240.9" y="13.6" font-size="9.3" fill="#3c3c3c" stroke="#3c3c3c" stroke-width="0.15" text-anchor="start" textLength="14" lengthAdjust="spacingAndGlyphs">W1</text>
<text x="267.8" y="13.6" font-size="9.3" fill="#3c3c3c" stroke="#3c3c3c" stroke-width="0.15" text-anchor="start" textLength="14.4" lengthAdjust="spacingAndGlyphs">MN</text>
<path d="M7.5 33 L15.5 33 L11.5 37 Z" fill="#000"/>
<text x="20.4" y="37.3" font-size="9.3" fill="#000" stroke="#000" stroke-width="0.15" text-anchor="start" textLength="65.8" lengthAdjust="spacingAndGlyphs">AUDUSD,Daily</text>
<text x="91.8" y="37.3" font-size="9.3" fill="#000" stroke="#000" stroke-width="0.15" text-anchor="start" textLength="33" lengthAdjust="spacingAndGlyphs">0.73628</text>
<text x="127.6" y="37.3" font-size="9.3" fill="#000" stroke="#000" stroke-width="0.15" text-anchor="start" textLength="33" lengthAdjust="spacingAndGlyphs">0.73802</text>
<text x="163.7" y="37.3" font-size="9.3" fill="#000" stroke="#000" stroke-width="0.15" text-anchor="start" textLength="33" lengthAdjust="spacingAndGlyphs">0.73599</text>
<text x="199.8" y="37.3" font-size="9.3" fill="#000" stroke="#000" stroke-width="0.15" text-anchor="start" textLength="33" lengthAdjust="spacingAndGlyphs">0.73645</text>
<path d="M1272.5 27 L1282.5 27 L1277.5 32 Z" fill="#c0c0c0"/>
<g shape-rendering="crispEdges">
<rect x="1598" y="33" width="2" height="1" fill="#000"/>
<rect x="1598" y="66" width="2" height="1" fill="#000"/>
<rect x="1598" y="99" width="2" height="1" fill="#000"/>
<rect x="1598" y="132" width="2" height="1" fill="#000"/>
<rect x="1598" y="165" width="2" height="1" fill="#000"/>
<rect x="1598" y="198" width="2" height="1" fill="#000"/>
<rect x="1598" y="231" width="2" height="1" fill="#000"/>
<rect x="1598" y="264" width="2" height="1" fill="#000"/>
<rect x="1598" y="297" width="2" height="1" fill="#000"/>
<rect x="1598" y="330" width="2" height="1" fill="#000"/>
<rect x="1598" y="363" width="2" height="1" fill="#000"/>
<rect x="1598" y="396" width="2" height="1" fill="#000"/>
<rect x="1598" y="429" width="2" height="1" fill="#000"/>
<rect x="1598" y="462" width="2" height="1" fill="#000"/>
<rect x="1598" y="495" width="2" height="1" fill="#000"/>
<rect x="1598" y="528" width="2" height="1" fill="#000"/>
</g>
<text x="1602.8" y="36.5" font-size="9" fill="#000" stroke="#000" stroke-width="0.15" text-anchor="start" textLength="33.3" lengthAdjust="spacingAndGlyphs">0.74525</text>
<text x="1602.8" y="69.5" font-size="9" fill="#000" stroke="#000" stroke-width="0.15" text-anchor="start" textLength="33.3" lengthAdjust="spacingAndGlyphs">0.73190</text>
<text x="1602.8" y="102.5" font-size="9" fill="#000" stroke="#000" stroke-width="0.15" text-anchor="start" textLength="33.3" lengthAdjust="spacingAndGlyphs">0.71865</text>
<text x="1602.8" y="135.5" font-size="9" fill="#000" stroke="#000" stroke-width="0.15" text-anchor="start" textLength="33.3" lengthAdjust="spacingAndGlyphs">0.70570</text>
<text x="1602.8" y="168.5" font-size="9" fill="#000" stroke="#000" stroke-width="0.15" text-anchor="start" textLength="33.3" lengthAdjust="spacingAndGlyphs">0.69240</text>
<text x="1602.8" y="201.5" font-size="9" fill="#000" stroke="#000" stroke-width="0.15" text-anchor="start" textLength="33.3" lengthAdjust="spacingAndGlyphs">0.67910</text>
<text x="1602.8" y="234.5" font-size="9" fill="#000" stroke="#000" stroke-width="0.15" text-anchor="start" textLength="33.3" lengthAdjust="spacingAndGlyphs">0.66580</text>
<text x="1602.8" y="267.5" font-size="9" fill="#000" stroke="#000" stroke-width="0.15" text-anchor="start" textLength="33.3" lengthAdjust="spacingAndGlyphs">0.65285</text>
<text x="1602.8" y="300.5" font-size="9" fill="#000" stroke="#000" stroke-width="0.15" text-anchor="start" textLength="33.3" lengthAdjust="spacingAndGlyphs">0.63955</text>
<text x="1602.8" y="333.5" font-size="9" fill="#000" stroke="#000" stroke-width="0.15" text-anchor="start" textLength="33.3" lengthAdjust="spacingAndGlyphs">0.62625</text>
<text x="1602.8" y="366.5" font-size="9" fill="#000" stroke="#000" stroke-width="0.15" text-anchor="start" textLength="33.3" lengthAdjust="spacingAndGlyphs">0.61295</text>
<text x="1602.8" y="399.5" font-size="9" fill="#000" stroke="#000" stroke-width="0.15" text-anchor="start" textLength="33.3" lengthAdjust="spacingAndGlyphs">0.60000</text>
<text x="1602.8" y="432.5" font-size="9" fill="#000" stroke="#000" stroke-width="0.15" text-anchor="start" textLength="33.3" lengthAdjust="spacingAndGlyphs">0.58670</text>
<text x="1602.8" y="465.5" font-size="9" fill="#000" stroke="#000" stroke-width="0.15" text-anchor="start" textLength="33.3" lengthAdjust="spacingAndGlyphs">0.57340</text>
<text x="1602.8" y="498.5" font-size="9" fill="#000" stroke="#000" stroke-width="0.15" text-anchor="start" textLength="33.3" lengthAdjust="spacingAndGlyphs">0.56045</text>
<text x="1602.8" y="531.5" font-size="9" fill="#000" stroke="#000" stroke-width="0.15" text-anchor="start" textLength="33.3" lengthAdjust="spacingAndGlyphs">0.54715</text>
<g shape-rendering="crispEdges">
<rect x="1599" y="39" width="34" height="11" fill="#ff0000"/>
<rect x="1599" y="50" width="34" height="11" fill="#000000"/>
<rect x="1599" y="64" width="34" height="11" fill="#ff0000"/>
<rect x="1599" y="89" width="34" height="11" fill="#00ff00"/>
<rect x="1599" y="115" width="34" height="11" fill="#0000ff"/>
<rect x="1599" y="140" width="34" height="11" fill="#0000ff"/>
<rect x="1599" y="164" width="34" height="11" fill="#0000ff"/>
</g>
<text x="1602.8" y="47.0" font-size="9" fill="#fff" stroke="#fff" stroke-width="0.15" text-anchor="start" textLength="33.3" lengthAdjust="spacingAndGlyphs">0.74021</text>
<text x="1602.8" y="58.0" font-size="9" fill="#fff" stroke="#fff" stroke-width="0.15" text-anchor="start" textLength="33.3" lengthAdjust="spacingAndGlyphs">0.73645</text>
<text x="1602.8" y="72.0" font-size="9" fill="#fff" stroke="#fff" stroke-width="0.15" text-anchor="start" textLength="33.3" lengthAdjust="spacingAndGlyphs">0.73033</text>
<text x="1602.8" y="97.0" font-size="9" fill="#fff" stroke="#fff" stroke-width="0.15" text-anchor="start" textLength="33.3" lengthAdjust="spacingAndGlyphs">0.72021</text>
<text x="1602.8" y="123.0" font-size="9" fill="#fff" stroke="#fff" stroke-width="0.15" text-anchor="start" textLength="33.3" lengthAdjust="spacingAndGlyphs">0.71010</text>
<text x="1602.8" y="148.0" font-size="9" fill="#fff" stroke="#fff" stroke-width="0.15" text-anchor="start" textLength="33.3" lengthAdjust="spacingAndGlyphs">0.69995</text>
<text x="1602.8" y="172.0" font-size="9" fill="#fff" stroke="#fff" stroke-width="0.15" text-anchor="start" textLength="33.3" lengthAdjust="spacingAndGlyphs">0.69025</text>
<text x="9" y="545.0" font-size="9.3" fill="#000" stroke="#000" stroke-width="0.15" text-anchor="start" textLength="68" lengthAdjust="spacingAndGlyphs">RSI(14) 75.2529</text>
<g shape-rendering="crispEdges">
<path stroke="#c0c0c0" stroke-width="1" fill="none" d="M6 561.5h3M12 561.5h3M18 561.5h3M24 561.5h3M30 561.5h3M36 561.5h3M42 561.5h3M48 561.5h3M54 561.5h3M60 561.5h3M66 561.5h3M72 561.5h3M78 561.5h3M84 561.5h3M90 561.5h3M96 561.5h3M102 561.5h3M108 561.5h3M114 561.5h3M120 561.5h3M126 561.5h3M132 561.5h3M138 561.5h3M144 561.5h3M150 561.5h3M156 561.5h3M162 561.5h3M168 561.5h3M174 561.5h3M180 561.5h3M186 561.5h3M192 561.5h3M198 561.5h3M204 561.5h3M210 561.5h3M216 561.5h3M222 561.5h3M228 561.5h3M234 561.5h3M240 561.5h3M246 561.5h3M252 561.5h3M258 561.5h3M264 561.5h3M270 561.5h3M276 561.5h3M282 561.5h3M288 561.5h3M294 561.5h3M300 561.5h3M306 561.5h3M312 561.5h3M318 561.5h3M324 561.5h3M330 561.5h3M336 561.5h3M342 561.5h3M348 561.5h3M354 561.5h3M360 561.5h3M366 561.5h3M372 561.5h3M378 561.5h3M384 561.5h3M390 561.5h3M396 561.5h3M402 561.5h3M408 561.5h3M414 561.5h3M420 561.5h3M426 561.5h3M432 561.5h3M438 561.5h3M444 561.5h3M450 561.5h3M456 561.5h3M462 561.5h3M468 561.5h3M474 561.5h3M480 561.5h3M486 561.5h3M492 561.5h3M498 561.5h3M504 561.5h3M510 561.5h3M516 561.5h3M522 561.5h3M528 561.5h3M534 561.5h3M540 561.5h3M546 561.5h3M552 561.5h3M558 561.5h3M564 561.5h3M570 561.5h3M576 561.5h3M582 561.5h3M588 561.5h3M594 561.5h3M600 561.5h3M606 561.5h3M612 561.5h3M618 561.5h3M624 561.5h3M630 561.5h3M636 561.5h3M642 561.5h3M648 561.5h3M654 561.5h3M660 561.5h3M666 561.5h3M672 561.5h3M678 561.5h3M684 561.5h3M690 561.5h3M696 561.5h3M702 561.5h3M708 561.5h3M714 561.5h3M720 561.5h3M726 561.5h3M732 561.5h3M738 561.5h3M744 561.5h3M750 561.5h3M756 561.5h3M762 561.5h3M768 561.5h3M774 561.5h3M780 561.5h3M786 561.5h3M792 561.5h3M798 561.5h3M804 561.5h3M810 561.5h3M816 561.5h3M822 561.5h3M828 561.5h3M834 561.5h3M840 561.5h3M846 561.5h3M852 561.5h3M858 561.5h3M864 561.5h3M870 561.5h3M876 561.5h3M882 561.5h3M888 561.5h3M894 561.5h3M900 561.5h3M906 561.5h3M912 561.5h3M918 561.5h3M924 561.5h3M930 561.5h3M936 561.5h3M942 561.5h3M948 561.5h3M954 561.5h3M960 561.5h3M966 561.5h3M972 561.5h3M978 561.5h3M984 561.5h3M990 561.5h3M996 561.5h3M1002 561.5h3M1008 561.5h3M1014 561.5h3M1020 561.5h3M1026 561.5h3M1032 561.5h3M1038 561.5h3M1044 561.5h3M1050 561.5h3M1056 561.5h3M1062 561.5h3M1068 561.5h3M1074 561.5h3M1080 561.5h3M1086 561.5h3M1092 561.5h3M1098 561.5h3M1104 561.5h3M1110 561.5h3M1116 561.5h3M1122 561.5h3M1128 561.5h3M1134 561.5h3M1140 561.5h3M1146 561.5h3M1152 561.5h3M1158 561.5h3M1164 561.5h3M1170 561.5h3M1176 561.5h3M1182 561.5h3M1188 561.5h3M1194 561.5h3M1200 561.5h3M1206 561.5h3M1212 561.5h3M1218 561.5h3M1224 561.5h3M1230 561.5h3M1236 561.5h3M1242 561.5h3M1248 561.5h3M1254 561.5h3M1260 561.5h3M1266 561.5h3M1272 561.5h3M1278 561.5h3M1284 561.5h3M1290 561.5h3M1296 561.5h3M1302 561.5h3M1308 561.5h3M1314 561.5h3M1320 561.5h3M1326 561.5h3M1332 561.5h3M1338 561.5h3M1344 561.5h3M1350 561.5h3M1356 561.5h3M1362 561.5h3M1368 561.5h3M1374 561.5h3M1380 561.5h3M1386 561.5h3M1392 561.5h3M1398 561.5h3M1404 561.5h3M1410 561.5h3M1416 561.5h3M1422 561.5h3M1428 561.5h3M1434 561.5h3M1440 561.5h3M1446 561.5h3M1452 561.5h3M1458 561.5h3M1464 561.5h3M1470 561.5h3M1476 561.5h3M1482 561.5h3M1488 561.5h3M1494 561.5h3M1500 561.5h3M1506 561.5h3M1512 561.5h3M1518 561.5h3M1524 561.5h3M1530 561.5h3M1536 561.5h3M1542 561.5h3M1548 561.5h3M1554 561.5h3M1560 561.5h3M1566 561.5h3M1572 561.5h3M1578 561.5h3M1584 561.5h3M1590 561.5h3M1596 561.5h1"/>
<path stroke="#c0c0c0" stroke-width="1" fill="none" d="M6 597.5h3M12 597.5h3M18 597.5h3M24 597.5h3M30 597.5h3M36 597.5h3M42 597.5h3M48 597.5h3M54 597.5h3M60 597.5h3M66 597.5h3M72 597.5h3M78 597.5h3M84 597.5h3M90 597.5h3M96 597.5h3M102 597.5h3M108 597.5h3M114 597.5h3M120 597.5h3M126 597.5h3M132 597.5h3M138 597.5h3M144 597.5h3M150 597.5h3M156 597.5h3M162 597.5h3M168 597.5h3M174 597.5h3M180 597.5h3M186 597.5h3M192 597.5h3M198 597.5h3M204 597.5h3M210 597.5h3M216 597.5h3M222 597.5h3M228 597.5h3M234 597.5h3M240 597.5h3M246 597.5h3M252 597.5h3M258 597.5h3M264 597.5h3M270 597.5h3M276 597.5h3M282 597.5h3M288 597.5h3M294 597.5h3M300 597.5h3M306 597.5h3M312 597.5h3M318 597.5h3M324 597.5h3M330 597.5h3M336 597.5h3M342 597.5h3M348 597.5h3M354 597.5h3M360 597.5h3M366 597.5h3M372 597.5h3M378 597.5h3M384 597.5h3M390 597.5h3M396 597.5h3M402 597.5h3M408 597.5h3M414 597.5h3M420 597.5h3M426 597.5h3M432 597.5h3M438 597.5h3M444 597.5h3M450 597.5h3M456 597.5h3M462 597.5h3M468 597.5h3M474 597.5h3M480 597.5h3M486 597.5h3M492 597.5h3M498 597.5h3M504 597.5h3M510 597.5h3M516 597.5h3M522 597.5h3M528 597.5h3M534 597.5h3M540 597.5h3M546 597.5h3M552 597.5h3M558 597.5h3M564 597.5h3M570 597.5h3M576 597.5h3M582 597.5h3M588 597.5h3M594 597.5h3M600 597.5h3M606 597.5h3M612 597.5h3M618 597.5h3M624 597.5h3M630 597.5h3M636 597.5h3M642 597.5h3M648 597.5h3M654 597.5h3M660 597.5h3M666 597.5h3M672 597.5h3M678 597.5h3M684 597.5h3M690 597.5h3M696 597.5h3M702 597.5h3M708 597.5h3M714 597.5h3M720 597.5h3M726 597.5h3M732 597.5h3M738 597.5h3M744 597.5h3M750 597.5h3M756 597.5h3M762 597.5h3M768 597.5h3M774 597.5h3M780 597.5h3M786 597.5h3M792 597.5h3M798 597.5h3M804 597.5h3M810 597.5h3M816 597.5h3M822 597.5h3M828 597.5h3M834 597.5h3M840 597.5h3M846 597.5h3M852 597.5h3M858 597.5h3M864 597.5h3M870 597.5h3M876 597.5h3M882 597.5h3M888 597.5h3M894 597.5h3M900 597.5h3M906 597.5h3M912 597.5h3M918 597.5h3M924 597.5h3M930 597.5h3M936 597.5h3M942 597.5h3M948 597.5h3M954 597.5h3M960 597.5h3M966 597.5h3M972 597.5h3M978 597.5h3M984 597.5h3M990 597.5h3M996 597.5h3M1002 597.5h3M1008 597.5h3M1014 597.5h3M1020 597.5h3M1026 597.5h3M1032 597.5h3M1038 597.5h3M1044 597.5h3M1050 597.5h3M1056 597.5h3M1062 597.5h3M1068 597.5h3M1074 597.5h3M1080 597.5h3M1086 597.5h3M1092 597.5h3M1098 597.5h3M1104 597.5h3M1110 597.5h3M1116 597.5h3M1122 597.5h3M1128 597.5h3M1134 597.5h3M1140 597.5h3M1146 597.5h3M1152 597.5h3M1158 597.5h3M1164 597.5h3M1170 597.5h3M1176 597.5h3M1182 597.5h3M1188 597.5h3M1194 597.5h3M1200 597.5h3M1206 597.5h3M1212 597.5h3M1218 597.5h3M1224 597.5h3M1230 597.5h3M1236 597.5h3M1242 597.5h3M1248 597.5h3M1254 597.5h3M1260 597.5h3M1266 597.5h3M1272 597.5h3M1278 597.5h3M1284 597.5h3M1290 597.5h3M1296 597.5h3M1302 597.5h3M1308 597.5h3M1314 597.5h3M1320 597.5h3M1326 597.5h3M1332 597.5h3M1338 597.5h3M1344 597.5h3M1350 597.5h3M1356 597.5h3M1362 597.5h3M1368 597.5h3M1374 597.5h3M1380 597.5h3M1386 597.5h3M1392 597.5h3M1398 597.5h3M1404 597.5h3M1410 597.5h3M1416 597.5h3M1422 597.5h3M1428 597.5h3M1434 597.5h3M1440 597.5h3M1446 597.5h3M1452 597.5h3M1458 597.5h3M1464 597.5h3M1470 597.5h3M1476 597.5h3M1482 597.5h3M1488 597.5h3M1494 597.5h3M1500 597.5h3M1506 597.5h3M1512 597.5h3M1518 597.5h3M1524 597.5h3M1530 597.5h3M1536 597.5h3M1542 597.5h3M1548 597.5h3M1554 597.5h3M1560 597.5h3M1566 597.5h3M1572 597.5h3M1578 597.5h3M1584 597.5h3M1590 597.5h3M1596 597.5h1"/>
</g>
<text x="1601.5" y="543.5" font-size="9" fill="#000" stroke="#000" stroke-width="0.15" text-anchor="start" textLength="15.600000000000001" lengthAdjust="spacingAndGlyphs">100</text>
<text x="1601.5" y="564.7" font-size="9" fill="#000" stroke="#000" stroke-width="0.15" text-anchor="start" textLength="10.4" lengthAdjust="spacingAndGlyphs">70</text>
<text x="1601.5" y="600.7" font-size="9" fill="#000" stroke="#000" stroke-width="0.15" text-anchor="start" textLength="10.4" lengthAdjust="spacingAndGlyphs">30</text>
<text x="1601.5" y="621.0" font-size="9" fill="#000" stroke="#000" stroke-width="0.15" text-anchor="start" textLength="5.2" lengthAdjust="spacingAndGlyphs">0</text>
<text x="9" y="638.9" font-size="9.3" fill="#000" stroke="#000" stroke-width="0.15" text-anchor="start" textLength="148" lengthAdjust="spacingAndGlyphs">MACD(12,26,9) 0.005563 0.003583</text>
<text x="1601.5" y="637.7" font-size="9" fill="#000" stroke="#000" stroke-width="0.15" text-anchor="start" textLength="32.3" lengthAdjust="spacingAndGlyphs">0.01574</text>
<text x="1601.5" y="667.6" font-size="9" fill="#000" stroke="#000" stroke-width="0.15" text-anchor="start" textLength="18" lengthAdjust="spacingAndGlyphs">0.00</text>
<text x="1601.5" y="715.6" font-size="9" fill="#000" stroke="#000" stroke-width="0.15" text-anchor="start" textLength="30.5" lengthAdjust="spacingAndGlyphs">-0.0244</text>
<rect x="1598" y="664" width="2" height="1" fill="#000" shape-rendering="crispEdges"/>
<path shape-rendering="crispEdges" fill="none" stroke="#1e90ff" stroke-width="1" d="M970 555.5h4M1132 555.5h2M965 556.5h5M974 556.5h2M979 556.5h2M1130 556.5h2M1134 556.5h2M433 557.5h1M962 557.5h3M976 557.5h3M981 557.5h2M987 557.5h3M1129 557.5h1M1136 557.5h2M1263 557.5h6M431 558.5h2M434 558.5h2M961 558.5h1M983 558.5h4M989 558.5h1M1129 558.5h1M1138 558.5h1M1261 558.5h2M430 559.5h1M436 559.5h2M960 559.5h1M990 559.5h1M1128 559.5h1M1138 559.5h1M1153 559.5h3M1260 559.5h1M421 560.5h1M428 560.5h2M438 560.5h1M959 560.5h1M990 560.5h1M1128 560.5h1M1139 560.5h1M1150 560.5h3M1156 560.5h1M1260 560.5h1M420 561.5h1M422 561.5h2M426 561.5h2M439 561.5h1M958 561.5h1M990 561.5h1M1127 561.5h1M1139 561.5h1M1149 561.5h1M1157 561.5h1M1183 561.5h2M1259 561.5h1M419 562.5h1M424 562.5h2M439 562.5h1M957 562.5h1M990 562.5h1M1127 562.5h1M1140 562.5h1M1147 562.5h2M1158 562.5h1M1181 562.5h2M1185 562.5h1M1258 562.5h1M228 563.5h3M419 563.5h1M440 563.5h1M956 563.5h1M991 563.5h1M1126 563.5h1M1140 563.5h1M1146 563.5h1M1159 563.5h1M1164 563.5h4M1180 563.5h1M1185 563.5h1M1257 563.5h1M226 564.5h2M231 564.5h2M418 564.5h1M441 564.5h1M844 564.5h3M956 564.5h1M991 564.5h1M1126 564.5h1M1141 564.5h1M1143 564.5h3M1160 564.5h4M1168 564.5h1M1179 564.5h1M1186 564.5h1M1224 564.5h5M1257 564.5h1M225 565.5h1M233 565.5h3M416 565.5h2M442 565.5h1M842 565.5h2M847 565.5h2M955 565.5h1M991 565.5h1M1112 565.5h1M1125 565.5h1M1141 565.5h2M1168 565.5h1M1179 565.5h1M1186 565.5h1M1222 565.5h2M1229 565.5h1M1256 565.5h1M223 566.5h2M236 566.5h3M368 566.5h1M407 566.5h4M414 566.5h2M442 566.5h1M791 566.5h2M840 566.5h2M849 566.5h1M937 566.5h1M954 566.5h1M991 566.5h1M1078 566.5h2M1110 566.5h2M1113 566.5h2M1123 566.5h3M1169 566.5h1M1178 566.5h1M1187 566.5h1M1221 566.5h1M1229 566.5h1M1255 566.5h1M45 567.5h2M58 567.5h5M185 567.5h8M222 567.5h1M239 567.5h3M367 567.5h1M369 567.5h1M405 567.5h2M411 567.5h3M443 567.5h1M788 567.5h3M793 567.5h1M838 567.5h2M850 567.5h1M916 567.5h2M936 567.5h1M938 567.5h1M945 567.5h1M954 567.5h1M992 567.5h1M1033 567.5h1M1076 567.5h2M1080 567.5h7M1102 567.5h1M1108 567.5h2M1115 567.5h2M1119 567.5h4M1170 567.5h1M1177 567.5h1M1187 567.5h1M1220 567.5h1M1230 567.5h1M1254 567.5h1M43 568.5h2M47 568.5h2M57 568.5h1M63 568.5h2M182 568.5h3M193 568.5h1M220 568.5h2M242 568.5h2M367 568.5h1M370 568.5h1M380 568.5h1M403 568.5h2M443 568.5h1M786 568.5h2M794 568.5h1M837 568.5h1M850 568.5h1M876 568.5h3M914 568.5h2M918 568.5h1M936 568.5h1M939 568.5h1M944 568.5h1M946 568.5h2M951 568.5h3M992 568.5h1M1031 568.5h2M1034 568.5h1M1074 568.5h2M1087 568.5h2M1101 568.5h1M1103 568.5h2M1106 568.5h2M1117 568.5h2M1170 568.5h1M1176 568.5h1M1188 568.5h1M1218 568.5h2M1230 568.5h1M1254 568.5h1M37 569.5h2M42 569.5h1M49 569.5h2M55 569.5h2M65 569.5h2M180 569.5h2M194 569.5h1M218 569.5h2M244 569.5h3M366 569.5h1M370 569.5h1M379 569.5h1M381 569.5h1M397 569.5h2M401 569.5h2M444 569.5h1M781 569.5h5M795 569.5h1M836 569.5h1M851 569.5h1M874 569.5h2M879 569.5h3M912 569.5h2M919 569.5h2M935 569.5h1M939 569.5h1M943 569.5h1M948 569.5h3M992 569.5h1M1012 569.5h2M1030 569.5h1M1034 569.5h1M1068 569.5h6M1089 569.5h6M1099 569.5h2M1105 569.5h1M1171 569.5h1M1175 569.5h1M1188 569.5h1M1217 569.5h1M1231 569.5h1M1253 569.5h1M36 570.5h1M39 570.5h3M51 570.5h2M54 570.5h1M67 570.5h1M178 570.5h2M195 570.5h1M216 570.5h2M247 570.5h3M340 570.5h1M366 570.5h1M371 570.5h1M377 570.5h2M381 570.5h1M395 570.5h2M399 570.5h2M444 570.5h1M778 570.5h3M795 570.5h1M812 570.5h2M835 570.5h1M851 570.5h1M873 570.5h1M882 570.5h1M911 570.5h1M921 570.5h1M934 570.5h1M940 570.5h1M942 570.5h1M993 570.5h1M1008 570.5h4M1014 570.5h1M1029 570.5h1M1035 570.5h1M1066 570.5h2M1095 570.5h2M1098 570.5h1M1172 570.5h1M1175 570.5h1M1189 570.5h1M1215 570.5h2M1231 570.5h1M1252 570.5h1M35 571.5h1M53 571.5h1M68 571.5h2M177 571.5h1M196 571.5h1M215 571.5h1M250 571.5h1M338 571.5h2M341 571.5h1M365 571.5h1M372 571.5h2M376 571.5h1M382 571.5h1M394 571.5h1M445 571.5h1M777 571.5h1M796 571.5h1M808 571.5h4M814 571.5h1M835 571.5h1M852 571.5h1M872 571.5h1M883 571.5h1M910 571.5h1M922 571.5h1M934 571.5h1M941 571.5h1M994 571.5h2M1005 571.5h3M1015 571.5h1M1028 571.5h1M1035 571.5h1M1060 571.5h6M1097 571.5h1M1172 571.5h1M1174 571.5h1M1189 571.5h1M1196 571.5h3M1203 571.5h5M1212 571.5h3M1232 571.5h1M1251 571.5h1M35 572.5h1M70 572.5h4M177 572.5h1M197 572.5h1M214 572.5h1M250 572.5h1M337 572.5h1M341 572.5h1M365 572.5h1M374 572.5h2M383 572.5h1M392 572.5h2M445 572.5h2M776 572.5h1M797 572.5h1M805 572.5h3M814 572.5h1M825 572.5h3M834 572.5h1M852 572.5h1M865 572.5h1M872 572.5h1M883 572.5h1M888 572.5h1M909 572.5h1M923 572.5h2M929 572.5h5M996 572.5h3M1003 572.5h2M1015 572.5h1M1027 572.5h1M1036 572.5h1M1059 572.5h1M1173 572.5h1M1190 572.5h2M1194 572.5h2M1199 572.5h4M1208 572.5h4M1232 572.5h1M1250 572.5h1M34 573.5h1M74 573.5h1M176 573.5h1M198 573.5h1M213 573.5h1M251 573.5h1M336 573.5h1M342 573.5h1M364 573.5h1M383 573.5h1M390 573.5h2M447 573.5h3M775 573.5h1M798 573.5h1M803 573.5h2M815 573.5h1M824 573.5h1M828 573.5h6M853 573.5h1M863 573.5h2M866 573.5h1M871 573.5h1M884 573.5h1M886 573.5h2M889 573.5h1M908 573.5h1M925 573.5h1M927 573.5h2M999 573.5h4M1016 573.5h1M1026 573.5h1M1036 573.5h1M1058 573.5h1M1192 573.5h2M1233 573.5h1M1248 573.5h2M33 574.5h1M75 574.5h1M157 574.5h1M176 574.5h1M199 574.5h1M205 574.5h1M212 574.5h1M251 574.5h1M336 574.5h1M343 574.5h1M351 574.5h3M364 574.5h1M384 574.5h1M388 574.5h2M450 574.5h1M774 574.5h1M799 574.5h1M801 574.5h2M815 574.5h1M823 574.5h1M854 574.5h2M862 574.5h1M867 574.5h1M870 574.5h1M885 574.5h1M890 574.5h1M907 574.5h1M926 574.5h1M1017 574.5h9M1037 574.5h1M1056 574.5h2M1234 574.5h1M1245 574.5h3M32 575.5h1M75 575.5h1M156 575.5h1M158 575.5h2M175 575.5h1M199 575.5h1M203 575.5h2M206 575.5h1M211 575.5h1M252 575.5h1M335 575.5h1M344 575.5h1M348 575.5h3M354 575.5h2M363 575.5h1M384 575.5h1M386 575.5h2M450 575.5h1M772 575.5h2M800 575.5h1M816 575.5h1M822 575.5h1M856 575.5h6M868 575.5h1M870 575.5h1M891 575.5h1M907 575.5h1M1037 575.5h8M1055 575.5h1M1235 575.5h1M1242 575.5h3M31 576.5h1M76 576.5h1M156 576.5h1M160 576.5h2M175 576.5h1M200 576.5h1M202 576.5h1M207 576.5h2M210 576.5h1M252 576.5h1M335 576.5h1M344 576.5h1M346 576.5h2M356 576.5h2M363 576.5h1M385 576.5h1M451 576.5h1M770 576.5h2M816 576.5h1M820 576.5h2M869 576.5h1M892 576.5h1M906 576.5h1M1045 576.5h5M1054 576.5h1M1235 576.5h1M1240 576.5h2M30 577.5h1M77 577.5h1M155 577.5h1M162 577.5h1M175 577.5h1M201 577.5h1M209 577.5h1M253 577.5h3M334 577.5h1M345 577.5h1M358 577.5h1M362 577.5h1M451 577.5h1M768 577.5h2M817 577.5h3M893 577.5h2M906 577.5h1M1050 577.5h4M1236 577.5h1M1238 577.5h2M29 578.5h1M77 578.5h1M155 578.5h1M163 578.5h1M174 578.5h1M256 578.5h4M334 578.5h1M358 578.5h1M362 578.5h1M452 578.5h1M668 578.5h2M767 578.5h1M817 578.5h1M895 578.5h2M905 578.5h1M1237 578.5h1M28 579.5h1M78 579.5h1M154 579.5h1M164 579.5h1M174 579.5h1M260 579.5h2M333 579.5h1M359 579.5h1M361 579.5h1M452 579.5h1M665 579.5h3M669 579.5h1M767 579.5h1M897 579.5h4M905 579.5h1M28 580.5h1M78 580.5h1M153 580.5h1M165 580.5h2M173 580.5h1M262 580.5h3M333 580.5h1M359 580.5h1M361 580.5h1M453 580.5h1M470 580.5h10M484 580.5h2M663 580.5h2M670 580.5h1M737 580.5h2M766 580.5h1M901 580.5h4M27 581.5h1M79 581.5h1M134 581.5h3M153 581.5h1M167 581.5h2M173 581.5h1M265 581.5h2M332 581.5h1M360 581.5h1M454 581.5h1M469 581.5h1M480 581.5h4M486 581.5h2M661 581.5h2M670 581.5h1M736 581.5h1M739 581.5h3M766 581.5h1M27 582.5h1M79 582.5h1M132 582.5h2M137 582.5h1M152 582.5h1M169 582.5h2M172 582.5h1M267 582.5h2M288 582.5h1M332 582.5h1M454 582.5h1M469 582.5h1M488 582.5h2M649 582.5h5M659 582.5h2M670 582.5h1M735 582.5h1M742 582.5h3M765 582.5h1M26 583.5h1M80 583.5h1M131 583.5h1M138 583.5h1M151 583.5h1M171 583.5h2M268 583.5h1M286 583.5h2M289 583.5h1M331 583.5h1M455 583.5h1M468 583.5h1M490 583.5h1M649 583.5h1M654 583.5h2M658 583.5h1M670 583.5h1M734 583.5h1M745 583.5h2M765 583.5h1M26 584.5h1M80 584.5h1M97 584.5h1M131 584.5h1M139 584.5h1M150 584.5h1M269 584.5h1M279 584.5h7M290 584.5h2M331 584.5h1M456 584.5h1M468 584.5h1M491 584.5h2M581 584.5h1M648 584.5h1M656 584.5h2M671 584.5h1M733 584.5h1M747 584.5h3M764 584.5h1M25 585.5h1M81 585.5h1M95 585.5h2M98 585.5h1M130 585.5h1M140 585.5h2M150 585.5h1M269 585.5h1M277 585.5h2M292 585.5h1M331 585.5h1M457 585.5h1M467 585.5h1M493 585.5h7M580 585.5h1M582 585.5h2M648 585.5h1M671 585.5h1M732 585.5h1M750 585.5h2M763 585.5h1M25 586.5h1M82 586.5h2M94 586.5h1M98 586.5h1M129 586.5h1M142 586.5h2M147 586.5h3M270 586.5h1M276 586.5h1M293 586.5h3M330 586.5h1M457 586.5h1M467 586.5h1M500 586.5h2M579 586.5h1M584 586.5h2M648 586.5h1M671 586.5h1M731 586.5h1M752 586.5h2M763 586.5h1M25 587.5h1M84 587.5h1M93 587.5h1M99 587.5h1M108 587.5h7M129 587.5h1M144 587.5h3M270 587.5h1M276 587.5h1M296 587.5h3M313 587.5h2M330 587.5h1M458 587.5h1M466 587.5h1M502 587.5h2M579 587.5h1M586 587.5h2M647 587.5h1M671 587.5h1M730 587.5h1M754 587.5h2M762 587.5h1M24 588.5h1M85 588.5h1M91 588.5h2M100 588.5h1M104 588.5h4M115 588.5h1M128 588.5h1M271 588.5h1M275 588.5h1M299 588.5h2M312 588.5h1M315 588.5h2M330 588.5h1M459 588.5h2M466 588.5h1M504 588.5h2M578 588.5h1M588 588.5h3M594 588.5h3M647 588.5h1M672 588.5h1M729 588.5h1M756 588.5h2M762 588.5h1M24 589.5h1M86 589.5h2M89 589.5h2M100 589.5h1M102 589.5h2M116 589.5h1M128 589.5h1M271 589.5h1M275 589.5h1M301 589.5h2M311 589.5h1M317 589.5h2M329 589.5h1M461 589.5h5M506 589.5h1M513 589.5h1M577 589.5h1M591 589.5h3M597 589.5h2M647 589.5h1M672 589.5h1M676 589.5h1M728 589.5h1M758 589.5h4M5 590.5h2M23 590.5h1M88 590.5h1M101 590.5h1M116 590.5h1M127 590.5h1M271 590.5h1M275 590.5h1M303 590.5h3M311 590.5h1M319 590.5h1M329 590.5h1M507 590.5h1M511 590.5h2M514 590.5h1M577 590.5h1M599 590.5h2M647 590.5h1M672 590.5h1M675 590.5h2M728 590.5h1M7 591.5h4M23 591.5h1M117 591.5h1M127 591.5h1M272 591.5h1M274 591.5h1M306 591.5h2M310 591.5h1M320 591.5h2M328 591.5h1M508 591.5h1M510 591.5h1M515 591.5h1M576 591.5h1M601 591.5h1M646 591.5h1M672 591.5h1M675 591.5h1M677 591.5h1M727 591.5h1M11 592.5h8M22 592.5h1M118 592.5h1M127 592.5h1M272 592.5h1M274 592.5h1M308 592.5h2M322 592.5h7M509 592.5h1M516 592.5h1M557 592.5h2M576 592.5h1M602 592.5h1M646 592.5h1M673 592.5h2M677 592.5h1M726 592.5h1M19 593.5h2M22 593.5h1M119 593.5h1M126 593.5h1M273 593.5h1M517 593.5h5M556 593.5h1M559 593.5h3M575 593.5h1M603 593.5h2M646 593.5h1M673 593.5h2M678 593.5h1M725 593.5h1M21 594.5h1M120 594.5h1M126 594.5h1M273 594.5h1M522 594.5h1M555 594.5h1M562 594.5h1M575 594.5h1M605 594.5h1M645 594.5h1M673 594.5h1M678 594.5h1M723 594.5h2M121 595.5h1M125 595.5h1M522 595.5h1M554 595.5h1M563 595.5h1M575 595.5h1M606 595.5h1M643 595.5h3M679 595.5h1M721 595.5h2M122 596.5h4M523 596.5h1M553 596.5h1M563 596.5h1M574 596.5h1M606 596.5h1M641 596.5h2M679 596.5h1M720 596.5h1M523 597.5h1M553 597.5h1M564 597.5h1M574 597.5h1M607 597.5h1M641 597.5h1M680 597.5h1M720 597.5h1M524 598.5h1M552 598.5h1M565 598.5h1M573 598.5h1M608 598.5h1M613 598.5h7M640 598.5h1M680 598.5h1M720 598.5h1M524 599.5h1M552 599.5h1M566 599.5h2M571 599.5h3M608 599.5h1M611 599.5h2M620 599.5h2M640 599.5h1M681 599.5h1M719 599.5h1M525 600.5h2M551 600.5h1M568 600.5h3M609 600.5h2M622 600.5h2M633 600.5h1M640 600.5h1M681 600.5h1M719 600.5h1M527 601.5h2M551 601.5h1M624 601.5h2M632 601.5h1M634 601.5h1M639 601.5h1M682 601.5h1M719 601.5h1M529 602.5h3M551 602.5h1M626 602.5h1M632 602.5h1M634 602.5h1M639 602.5h1M683 602.5h1M719 602.5h1M532 603.5h2M550 603.5h1M627 603.5h1M631 603.5h1M635 603.5h1M639 603.5h1M684 603.5h1M719 603.5h1M534 604.5h2M550 604.5h1M627 604.5h1M630 604.5h1M635 604.5h1M638 604.5h1M685 604.5h6M718 604.5h1M536 605.5h2M549 605.5h1M628 605.5h1M630 605.5h1M636 605.5h1M638 605.5h1M691 605.5h2M718 605.5h1M538 606.5h2M543 606.5h7M629 606.5h1M636 606.5h1M638 606.5h1M693 606.5h2M718 606.5h1M540 607.5h3M637 607.5h1M695 607.5h1M718 607.5h1M637 608.5h1M696 608.5h2M717 608.5h1M698 609.5h1M704 609.5h12M717 609.5h1M699 610.5h2M702 610.5h2M716 610.5h2M701 611.5h1"/>
<g shape-rendering="crispEdges">
<rect x="5" y="664" width="1" height="7" fill="#c0c0c0"/>
<rect x="9" y="664" width="1" height="6" fill="#c0c0c0"/>
<rect x="13" y="664" width="1" height="6" fill="#c0c0c0"/>
<rect x="17" y="664" width="1" height="6" fill="#c0c0c0"/>
<rect x="21" y="664" width="1" height="6" fill="#c0c0c0"/>
<rect x="25" y="664" width="1" height="6" fill="#c0c0c0"/>
<rect x="29" y="664" width="1" height="5" fill="#c0c0c0"/>
<rect x="33" y="664" width="1" height="5" fill="#c0c0c0"/>
<rect x="37" y="664" width="1" height="4" fill="#c0c0c0"/>
<rect x="41" y="664" width="1" height="2" fill="#c0c0c0"/>
<rect x="45" y="664" width="1" height="1" fill="#c0c0c0"/>
<rect x="49" y="664" width="1" height="1" fill="#c0c0c0"/>
<rect x="53" y="662" width="1" height="2" fill="#c0c0c0"/>
<rect x="57" y="662" width="1" height="2" fill="#c0c0c0"/>
<rect x="61" y="661" width="1" height="3" fill="#c0c0c0"/>
<rect x="65" y="661" width="1" height="3" fill="#c0c0c0"/>
<rect x="69" y="661" width="1" height="3" fill="#c0c0c0"/>
<rect x="73" y="660" width="1" height="4" fill="#c0c0c0"/>
<rect x="77" y="660" width="1" height="4" fill="#c0c0c0"/>
<rect x="81" y="661" width="1" height="3" fill="#c0c0c0"/>
<rect x="85" y="661" width="1" height="3" fill="#c0c0c0"/>
<rect x="89" y="661" width="1" height="3" fill="#c0c0c0"/>
<rect x="93" y="662" width="1" height="2" fill="#c0c0c0"/>
<rect x="97" y="663" width="1" height="1" fill="#c0c0c0"/>
<rect x="101" y="663" width="1" height="1" fill="#c0c0c0"/>
<rect x="105" y="664" width="1" height="1" fill="#c0c0c0"/>
<rect x="109" y="664" width="1" height="1" fill="#c0c0c0"/>
<rect x="113" y="664" width="1" height="2" fill="#c0c0c0"/>
<rect x="117" y="664" width="1" height="2" fill="#c0c0c0"/>
<rect x="121" y="664" width="1" height="3" fill="#c0c0c0"/>
<rect x="125" y="664" width="1" height="4" fill="#c0c0c0"/>
<rect x="129" y="664" width="1" height="4" fill="#c0c0c0"/>
<rect x="133" y="664" width="1" height="4" fill="#c0c0c0"/>
<rect x="137" y="664" width="1" height="4" fill="#c0c0c0"/>
<rect x="141" y="664" width="1" height="4" fill="#c0c0c0"/>
<rect x="145" y="664" width="1" height="4" fill="#c0c0c0"/>
<rect x="149" y="664" width="1" height="4" fill="#c0c0c0"/>
<rect x="153" y="664" width="1" height="4" fill="#c0c0c0"/>
<rect x="157" y="664" width="1" height="3" fill="#c0c0c0"/>
<rect x="161" y="664" width="1" height="3" fill="#c0c0c0"/>
<rect x="165" y="664" width="1" height="2" fill="#c0c0c0"/>
<rect x="169" y="664" width="1" height="2" fill="#c0c0c0"/>
<rect x="173" y="664" width="1" height="1" fill="#c0c0c0"/>
<rect x="177" y="664" width="1" height="1" fill="#c0c0c0"/>
<rect x="181" y="664" width="1" height="1" fill="#c0c0c0"/>
<rect x="185" y="663" width="1" height="1" fill="#c0c0c0"/>
<rect x="189" y="663" width="1" height="1" fill="#c0c0c0"/>
<rect x="193" y="662" width="1" height="2" fill="#c0c0c0"/>
<rect x="197" y="661" width="1" height="3" fill="#c0c0c0"/>
<rect x="201" y="661" width="1" height="3" fill="#c0c0c0"/>
<rect x="205" y="661" width="1" height="3" fill="#c0c0c0"/>
<rect x="209" y="660" width="1" height="4" fill="#c0c0c0"/>
<rect x="213" y="660" width="1" height="4" fill="#c0c0c0"/>
<rect x="217" y="660" width="1" height="4" fill="#c0c0c0"/>
<rect x="221" y="659" width="1" height="5" fill="#c0c0c0"/>
<rect x="225" y="659" width="1" height="5" fill="#c0c0c0"/>
<rect x="229" y="659" width="1" height="5" fill="#c0c0c0"/>
<rect x="233" y="659" width="1" height="5" fill="#c0c0c0"/>
<rect x="237" y="658" width="1" height="6" fill="#c0c0c0"/>
<rect x="241" y="658" width="1" height="6" fill="#c0c0c0"/>
<rect x="245" y="658" width="1" height="6" fill="#c0c0c0"/>
<rect x="249" y="659" width="1" height="5" fill="#c0c0c0"/>
<rect x="253" y="659" width="1" height="5" fill="#c0c0c0"/>
<rect x="257" y="659" width="1" height="5" fill="#c0c0c0"/>
<rect x="261" y="660" width="1" height="4" fill="#c0c0c0"/>
<rect x="265" y="661" width="1" height="3" fill="#c0c0c0"/>
<rect x="269" y="662" width="1" height="2" fill="#c0c0c0"/>
<rect x="273" y="663" width="1" height="1" fill="#c0c0c0"/>
<rect x="277" y="664" width="1" height="1" fill="#c0c0c0"/>
<rect x="281" y="664" width="1" height="1" fill="#c0c0c0"/>
<rect x="285" y="664" width="1" height="1" fill="#c0c0c0"/>
<rect x="289" y="664" width="1" height="1" fill="#c0c0c0"/>
<rect x="293" y="664" width="1" height="1" fill="#c0c0c0"/>
<rect x="297" y="664" width="1" height="2" fill="#c0c0c0"/>
<rect x="301" y="664" width="1" height="2" fill="#c0c0c0"/>
<rect x="305" y="664" width="1" height="2" fill="#c0c0c0"/>
<rect x="309" y="664" width="1" height="2" fill="#c0c0c0"/>
<rect x="313" y="664" width="1" height="3" fill="#c0c0c0"/>
<rect x="317" y="664" width="1" height="3" fill="#c0c0c0"/>
<rect x="321" y="664" width="1" height="3" fill="#c0c0c0"/>
<rect x="325" y="664" width="1" height="3" fill="#c0c0c0"/>
<rect x="329" y="664" width="1" height="3" fill="#c0c0c0"/>
<rect x="333" y="664" width="1" height="3" fill="#c0c0c0"/>
<rect x="337" y="664" width="1" height="3" fill="#c0c0c0"/>
<rect x="341" y="664" width="1" height="2" fill="#c0c0c0"/>
<rect x="345" y="664" width="1" height="2" fill="#c0c0c0"/>
<rect x="349" y="664" width="1" height="2" fill="#c0c0c0"/>
<rect x="353" y="664" width="1" height="1" fill="#c0c0c0"/>
<rect x="357" y="664" width="1" height="1" fill="#c0c0c0"/>
<rect x="361" y="664" width="1" height="1" fill="#c0c0c0"/>
<rect x="365" y="664" width="1" height="1" fill="#c0c0c0"/>
<rect x="369" y="663" width="1" height="1" fill="#c0c0c0"/>
<rect x="373" y="663" width="1" height="1" fill="#c0c0c0"/>
<rect x="377" y="662" width="1" height="2" fill="#c0c0c0"/>
<rect x="381" y="662" width="1" height="2" fill="#c0c0c0"/>
<rect x="385" y="661" width="1" height="3" fill="#c0c0c0"/>
<rect x="389" y="661" width="1" height="3" fill="#c0c0c0"/>
<rect x="393" y="661" width="1" height="3" fill="#c0c0c0"/>
<rect x="397" y="661" width="1" height="3" fill="#c0c0c0"/>
<rect x="401" y="660" width="1" height="4" fill="#c0c0c0"/>
<rect x="405" y="660" width="1" height="4" fill="#c0c0c0"/>
<rect x="409" y="660" width="1" height="4" fill="#c0c0c0"/>
<rect x="413" y="659" width="1" height="5" fill="#c0c0c0"/>
<rect x="417" y="658" width="1" height="6" fill="#c0c0c0"/>
<rect x="421" y="658" width="1" height="6" fill="#c0c0c0"/>
<rect x="425" y="657" width="1" height="7" fill="#c0c0c0"/>
<rect x="429" y="657" width="1" height="7" fill="#c0c0c0"/>
<rect x="433" y="656" width="1" height="8" fill="#c0c0c0"/>
<rect x="437" y="656" width="1" height="8" fill="#c0c0c0"/>
<rect x="441" y="656" width="1" height="8" fill="#c0c0c0"/>
<rect x="445" y="656" width="1" height="8" fill="#c0c0c0"/>
<rect x="449" y="656" width="1" height="8" fill="#c0c0c0"/>
<rect x="453" y="657" width="1" height="7" fill="#c0c0c0"/>
<rect x="457" y="659" width="1" height="5" fill="#c0c0c0"/>
<rect x="461" y="662" width="1" height="2" fill="#c0c0c0"/>
<rect x="465" y="664" width="1" height="1" fill="#c0c0c0"/>
<rect x="469" y="664" width="1" height="1" fill="#c0c0c0"/>
<rect x="473" y="664" width="1" height="1" fill="#c0c0c0"/>
<rect x="477" y="664" width="1" height="1" fill="#c0c0c0"/>
<rect x="481" y="664" width="1" height="1" fill="#c0c0c0"/>
<rect x="485" y="664" width="1" height="1" fill="#c0c0c0"/>
<rect x="489" y="664" width="1" height="1" fill="#c0c0c0"/>
<rect x="493" y="664" width="1" height="1" fill="#c0c0c0"/>
<rect x="497" y="664" width="1" height="1" fill="#c0c0c0"/>
<rect x="501" y="664" width="1" height="1" fill="#c0c0c0"/>
<rect x="505" y="664" width="1" height="2" fill="#c0c0c0"/>
<rect x="509" y="664" width="1" height="2" fill="#c0c0c0"/>
<rect x="513" y="664" width="1" height="3" fill="#c0c0c0"/>
<rect x="517" y="664" width="1" height="4" fill="#c0c0c0"/>
<rect x="521" y="664" width="1" height="5" fill="#c0c0c0"/>
<rect x="525" y="664" width="1" height="7" fill="#c0c0c0"/>
<rect x="529" y="664" width="1" height="8" fill="#c0c0c0"/>
<rect x="533" y="664" width="1" height="9" fill="#c0c0c0"/>
<rect x="537" y="664" width="1" height="10" fill="#c0c0c0"/>
<rect x="541" y="664" width="1" height="10" fill="#c0c0c0"/>
<rect x="545" y="664" width="1" height="11" fill="#c0c0c0"/>
<rect x="549" y="664" width="1" height="11" fill="#c0c0c0"/>
<rect x="553" y="664" width="1" height="12" fill="#c0c0c0"/>
<rect x="557" y="664" width="1" height="12" fill="#c0c0c0"/>
<rect x="561" y="664" width="1" height="12" fill="#c0c0c0"/>
<rect x="565" y="664" width="1" height="11" fill="#c0c0c0"/>
<rect x="569" y="664" width="1" height="11" fill="#c0c0c0"/>
<rect x="573" y="664" width="1" height="11" fill="#c0c0c0"/>
<rect x="577" y="664" width="1" height="10" fill="#c0c0c0"/>
<rect x="581" y="664" width="1" height="10" fill="#c0c0c0"/>
<rect x="585" y="664" width="1" height="9" fill="#c0c0c0"/>
<rect x="589" y="664" width="1" height="8" fill="#c0c0c0"/>
<rect x="593" y="664" width="1" height="8" fill="#c0c0c0"/>
<rect x="597" y="664" width="1" height="7" fill="#c0c0c0"/>
<rect x="601" y="664" width="1" height="7" fill="#c0c0c0"/>
<rect x="605" y="664" width="1" height="7" fill="#c0c0c0"/>
<rect x="609" y="664" width="1" height="7" fill="#c0c0c0"/>
<rect x="613" y="664" width="1" height="7" fill="#c0c0c0"/>
<rect x="617" y="664" width="1" height="8" fill="#c0c0c0"/>
<rect x="621" y="664" width="1" height="8" fill="#c0c0c0"/>
<rect x="625" y="664" width="1" height="8" fill="#c0c0c0"/>
<rect x="629" y="664" width="1" height="9" fill="#c0c0c0"/>
<rect x="633" y="664" width="1" height="11" fill="#c0c0c0"/>
<rect x="637" y="664" width="1" height="13" fill="#c0c0c0"/>
<rect x="641" y="664" width="1" height="13" fill="#c0c0c0"/>
<rect x="645" y="664" width="1" height="12" fill="#c0c0c0"/>
<rect x="649" y="664" width="1" height="12" fill="#c0c0c0"/>
<rect x="653" y="664" width="1" height="11" fill="#c0c0c0"/>
<rect x="657" y="664" width="1" height="10" fill="#c0c0c0"/>
<rect x="661" y="664" width="1" height="8" fill="#c0c0c0"/>
<rect x="665" y="664" width="1" height="7" fill="#c0c0c0"/>
<rect x="669" y="664" width="1" height="7" fill="#c0c0c0"/>
<rect x="673" y="664" width="1" height="8" fill="#c0c0c0"/>
<rect x="677" y="664" width="1" height="10" fill="#c0c0c0"/>
<rect x="681" y="664" width="1" height="14" fill="#c0c0c0"/>
<rect x="685" y="664" width="1" height="18" fill="#c0c0c0"/>
<rect x="689" y="664" width="1" height="22" fill="#c0c0c0"/>
<rect x="693" y="664" width="1" height="26" fill="#c0c0c0"/>
<rect x="697" y="664" width="1" height="32" fill="#c0c0c0"/>
<rect x="701" y="664" width="1" height="38" fill="#c0c0c0"/>
<rect x="705" y="664" width="1" height="42" fill="#c0c0c0"/>
<rect x="709" y="664" width="1" height="46" fill="#c0c0c0"/>
<rect x="713" y="664" width="1" height="48" fill="#c0c0c0"/>
<rect x="717" y="664" width="1" height="50" fill="#c0c0c0"/>
<rect x="721" y="664" width="1" height="48" fill="#c0c0c0"/>
<rect x="725" y="664" width="1" height="46" fill="#c0c0c0"/>
<rect x="729" y="664" width="1" height="42" fill="#c0c0c0"/>
<rect x="733" y="664" width="1" height="38" fill="#c0c0c0"/>
<rect x="737" y="664" width="1" height="32" fill="#c0c0c0"/>
<rect x="741" y="664" width="1" height="28" fill="#c0c0c0"/>
<rect x="745" y="664" width="1" height="24" fill="#c0c0c0"/>
<rect x="749" y="664" width="1" height="22" fill="#c0c0c0"/>
<rect x="753" y="664" width="1" height="21" fill="#c0c0c0"/>
<rect x="757" y="664" width="1" height="20" fill="#c0c0c0"/>
<rect x="761" y="664" width="1" height="19" fill="#c0c0c0"/>
<rect x="765" y="664" width="1" height="17" fill="#c0c0c0"/>
<rect x="769" y="664" width="1" height="15" fill="#c0c0c0"/>
<rect x="773" y="664" width="1" height="11" fill="#c0c0c0"/>
<rect x="777" y="664" width="1" height="6" fill="#c0c0c0"/>
<rect x="781" y="664" width="1" height="2" fill="#c0c0c0"/>
<rect x="785" y="664" width="1" height="1" fill="#c0c0c0"/>
<rect x="789" y="660" width="1" height="4" fill="#c0c0c0"/>
<rect x="793" y="657" width="1" height="7" fill="#c0c0c0"/>
<rect x="797" y="657" width="1" height="7" fill="#c0c0c0"/>
<rect x="801" y="657" width="1" height="7" fill="#c0c0c0"/>
<rect x="805" y="656" width="1" height="8" fill="#c0c0c0"/>
<rect x="809" y="655" width="1" height="9" fill="#c0c0c0"/>
<rect x="813" y="654" width="1" height="10" fill="#c0c0c0"/>
<rect x="817" y="654" width="1" height="10" fill="#c0c0c0"/>
<rect x="821" y="654" width="1" height="10" fill="#c0c0c0"/>
<rect x="825" y="654" width="1" height="10" fill="#c0c0c0"/>
<rect x="829" y="654" width="1" height="10" fill="#c0c0c0"/>
<rect x="833" y="653" width="1" height="11" fill="#c0c0c0"/>
<rect x="837" y="652" width="1" height="12" fill="#c0c0c0"/>
<rect x="841" y="651" width="1" height="13" fill="#c0c0c0"/>
<rect x="845" y="649" width="1" height="15" fill="#c0c0c0"/>
<rect x="849" y="648" width="1" height="16" fill="#c0c0c0"/>
<rect x="853" y="649" width="1" height="15" fill="#c0c0c0"/>
<rect x="857" y="650" width="1" height="14" fill="#c0c0c0"/>
<rect x="861" y="651" width="1" height="13" fill="#c0c0c0"/>
<rect x="865" y="651" width="1" height="13" fill="#c0c0c0"/>
<rect x="869" y="652" width="1" height="12" fill="#c0c0c0"/>
<rect x="873" y="652" width="1" height="12" fill="#c0c0c0"/>
<rect x="877" y="651" width="1" height="13" fill="#c0c0c0"/>
<rect x="881" y="651" width="1" height="13" fill="#c0c0c0"/>
<rect x="885" y="651" width="1" height="13" fill="#c0c0c0"/>
<rect x="889" y="652" width="1" height="12" fill="#c0c0c0"/>
<rect x="893" y="652" width="1" height="12" fill="#c0c0c0"/>
<rect x="897" y="655" width="1" height="9" fill="#c0c0c0"/>
<rect x="901" y="657" width="1" height="7" fill="#c0c0c0"/>
<rect x="905" y="658" width="1" height="6" fill="#c0c0c0"/>
<rect x="909" y="657" width="1" height="7" fill="#c0c0c0"/>
<rect x="913" y="656" width="1" height="8" fill="#c0c0c0"/>
<rect x="917" y="655" width="1" height="9" fill="#c0c0c0"/>
<rect x="921" y="654" width="1" height="10" fill="#c0c0c0"/>
<rect x="925" y="656" width="1" height="8" fill="#c0c0c0"/>
<rect x="929" y="656" width="1" height="8" fill="#c0c0c0"/>
<rect x="933" y="655" width="1" height="9" fill="#c0c0c0"/>
<rect x="937" y="654" width="1" height="10" fill="#c0c0c0"/>
<rect x="941" y="653" width="1" height="11" fill="#c0c0c0"/>
<rect x="945" y="652" width="1" height="12" fill="#c0c0c0"/>
<rect x="949" y="651" width="1" height="13" fill="#c0c0c0"/>
<rect x="953" y="650" width="1" height="14" fill="#c0c0c0"/>
<rect x="957" y="648" width="1" height="16" fill="#c0c0c0"/>
<rect x="961" y="646" width="1" height="18" fill="#c0c0c0"/>
<rect x="965" y="642" width="1" height="22" fill="#c0c0c0"/>
<rect x="969" y="639" width="1" height="25" fill="#c0c0c0"/>
<rect x="973" y="637" width="1" height="27" fill="#c0c0c0"/>
<rect x="977" y="635" width="1" height="29" fill="#c0c0c0"/>
<rect x="981" y="634" width="1" height="30" fill="#c0c0c0"/>
<rect x="985" y="634" width="1" height="30" fill="#c0c0c0"/>
<rect x="989" y="634" width="1" height="30" fill="#c0c0c0"/>
<rect x="993" y="635" width="1" height="29" fill="#c0c0c0"/>
<rect x="997" y="637" width="1" height="27" fill="#c0c0c0"/>
<rect x="1001" y="640" width="1" height="24" fill="#c0c0c0"/>
<rect x="1005" y="642" width="1" height="22" fill="#c0c0c0"/>
<rect x="1009" y="644" width="1" height="20" fill="#c0c0c0"/>
<rect x="1013" y="645" width="1" height="19" fill="#c0c0c0"/>
<rect x="1017" y="647" width="1" height="17" fill="#c0c0c0"/>
<rect x="1021" y="648" width="1" height="16" fill="#c0c0c0"/>
<rect x="1025" y="650" width="1" height="14" fill="#c0c0c0"/>
<rect x="1029" y="650" width="1" height="14" fill="#c0c0c0"/>
<rect x="1033" y="650" width="1" height="14" fill="#c0c0c0"/>
<rect x="1037" y="651" width="1" height="13" fill="#c0c0c0"/>
<rect x="1041" y="652" width="1" height="12" fill="#c0c0c0"/>
<rect x="1045" y="654" width="1" height="10" fill="#c0c0c0"/>
<rect x="1049" y="655" width="1" height="9" fill="#c0c0c0"/>
<rect x="1053" y="656" width="1" height="8" fill="#c0c0c0"/>
<rect x="1057" y="656" width="1" height="8" fill="#c0c0c0"/>
<rect x="1061" y="657" width="1" height="7" fill="#c0c0c0"/>
<rect x="1065" y="657" width="1" height="7" fill="#c0c0c0"/>
<rect x="1069" y="657" width="1" height="7" fill="#c0c0c0"/>
<rect x="1073" y="656" width="1" height="8" fill="#c0c0c0"/>
<rect x="1077" y="656" width="1" height="8" fill="#c0c0c0"/>
<rect x="1081" y="656" width="1" height="8" fill="#c0c0c0"/>
<rect x="1085" y="656" width="1" height="8" fill="#c0c0c0"/>
<rect x="1089" y="655" width="1" height="9" fill="#c0c0c0"/>
<rect x="1093" y="655" width="1" height="9" fill="#c0c0c0"/>
<rect x="1097" y="655" width="1" height="9" fill="#c0c0c0"/>
<rect x="1101" y="655" width="1" height="9" fill="#c0c0c0"/>
<rect x="1105" y="655" width="1" height="9" fill="#c0c0c0"/>
<rect x="1109" y="656" width="1" height="8" fill="#c0c0c0"/>
<rect x="1113" y="656" width="1" height="8" fill="#c0c0c0"/>
<rect x="1117" y="656" width="1" height="8" fill="#c0c0c0"/>
<rect x="1121" y="656" width="1" height="8" fill="#c0c0c0"/>
<rect x="1125" y="656" width="1" height="8" fill="#c0c0c0"/>
<rect x="1129" y="654" width="1" height="10" fill="#c0c0c0"/>
<rect x="1133" y="652" width="1" height="12" fill="#c0c0c0"/>
<rect x="1137" y="652" width="1" height="12" fill="#c0c0c0"/>
<rect x="1141" y="651" width="1" height="13" fill="#c0c0c0"/>
<rect x="1145" y="651" width="1" height="13" fill="#c0c0c0"/>
<rect x="1149" y="651" width="1" height="13" fill="#c0c0c0"/>
<rect x="1153" y="650" width="1" height="14" fill="#c0c0c0"/>
<rect x="1157" y="650" width="1" height="14" fill="#c0c0c0"/>
<rect x="1161" y="650" width="1" height="14" fill="#c0c0c0"/>
<rect x="1165" y="650" width="1" height="14" fill="#c0c0c0"/>
<rect x="1169" y="651" width="1" height="13" fill="#c0c0c0"/>
<rect x="1173" y="651" width="1" height="13" fill="#c0c0c0"/>
<rect x="1177" y="652" width="1" height="12" fill="#c0c0c0"/>
<rect x="1181" y="652" width="1" height="12" fill="#c0c0c0"/>
<rect x="1185" y="652" width="1" height="12" fill="#c0c0c0"/>
<rect x="1189" y="652" width="1" height="12" fill="#c0c0c0"/>
<rect x="1193" y="653" width="1" height="11" fill="#c0c0c0"/>
<rect x="1197" y="654" width="1" height="10" fill="#c0c0c0"/>
<rect x="1201" y="655" width="1" height="9" fill="#c0c0c0"/>
<rect x="1205" y="655" width="1" height="9" fill="#c0c0c0"/>
<rect x="1209" y="655" width="1" height="9" fill="#c0c0c0"/>
<rect x="1213" y="656" width="1" height="8" fill="#c0c0c0"/>
<rect x="1217" y="656" width="1" height="8" fill="#c0c0c0"/>
<rect x="1221" y="656" width="1" height="8" fill="#c0c0c0"/>
<rect x="1225" y="655" width="1" height="9" fill="#c0c0c0"/>
<rect x="1229" y="655" width="1" height="9" fill="#c0c0c0"/>
<rect x="1233" y="656" width="1" height="8" fill="#c0c0c0"/>
<rect x="1237" y="657" width="1" height="7" fill="#c0c0c0"/>
<rect x="1241" y="658" width="1" height="6" fill="#c0c0c0"/>
<rect x="1245" y="658" width="1" height="6" fill="#c0c0c0"/>
<rect x="1249" y="659" width="1" height="5" fill="#c0c0c0"/>
<rect x="1253" y="658" width="1" height="6" fill="#c0c0c0"/>
<rect x="1257" y="658" width="1" height="6" fill="#c0c0c0"/>
<rect x="1261" y="657" width="1" height="7" fill="#c0c0c0"/>
<rect x="1265" y="654" width="1" height="10" fill="#c0c0c0"/>
<rect x="1269" y="652" width="1" height="12" fill="#c0c0c0"/>
</g>
<path shape-rendering="crispEdges" fill="none" stroke="#ff0000" stroke-width="1" d="M1001 635.5h3M991 636.5h1M995 636.5h3M1007 636.5h2M989 637.5h2M1009 637.5h1M1013 638.5h2M984 639.5h2M1015 639.5h1M983 640.5h1M1019 640.5h3M978 642.5h2M1025 642.5h2M977 643.5h1M1027 643.5h1M1031 644.5h1M972 645.5h2M1032 645.5h2M971 646.5h1M1037 647.5h2M966 648.5h2M1039 648.5h1M965 649.5h1M1043 649.5h3M857 650.5h3M863 650.5h3M869 650.5h3M875 650.5h3M881 650.5h3M960 650.5h2M1049 650.5h3M1158 650.5h2M1163 650.5h3M1169 650.5h3M1175 650.5h3M1181 650.5h3M1187 650.5h2M847 651.5h1M851 651.5h3M887 651.5h3M893 651.5h3M959 651.5h1M1153 651.5h1M1157 651.5h1M1189 651.5h1M1193 651.5h3M1199 651.5h3M1205 651.5h3M1211 651.5h2M841 652.5h1M845 652.5h2M899 652.5h3M949 652.5h1M953 652.5h3M1055 652.5h3M1145 652.5h3M1151 652.5h2M1213 652.5h1M1217 652.5h1M833 653.5h3M839 653.5h2M905 653.5h3M941 653.5h3M947 653.5h2M1061 653.5h3M1128 653.5h2M1133 653.5h3M1139 653.5h3M1218 653.5h2M1223 653.5h2M823 654.5h1M827 654.5h3M911 654.5h3M917 654.5h3M935 654.5h3M1067 654.5h3M1073 654.5h2M1091 654.5h3M1097 654.5h3M1103 654.5h3M1109 654.5h3M1115 654.5h3M1121 654.5h3M1127 654.5h1M1225 654.5h1M1229 654.5h3M437 655.5h3M443 655.5h3M449 655.5h3M455 655.5h1M821 655.5h2M923 655.5h3M929 655.5h3M1075 655.5h1M1079 655.5h3M1085 655.5h3M1235 655.5h3M1241 655.5h3M431 656.5h3M456 656.5h2M461 656.5h3M815 656.5h3M1247 656.5h3M1253 656.5h3M1259 656.5h3M1265 656.5h3M425 657.5h3M467 657.5h3M811 657.5h1M233 658.5h3M239 658.5h3M245 658.5h3M251 658.5h3M257 658.5h3M263 658.5h3M419 658.5h3M473 658.5h3M809 658.5h2M221 659.5h3M227 659.5h3M269 659.5h3M275 659.5h2M407 659.5h3M413 659.5h3M71 660.5h3M77 660.5h3M83 660.5h3M89 660.5h1M209 660.5h3M215 660.5h3M277 660.5h1M397 660.5h1M401 660.5h3M479 660.5h2M66 661.5h2M90 661.5h2M95 661.5h3M197 661.5h3M203 661.5h3M281 661.5h3M391 661.5h1M395 661.5h2M481 661.5h1M485 661.5h1M804 661.5h2M65 662.5h1M101 662.5h2M191 662.5h3M287 662.5h3M383 662.5h3M389 662.5h2M486 662.5h2M491 662.5h1M803 662.5h1M59 663.5h3M103 663.5h1M107 663.5h1M185 663.5h3M293 663.5h3M371 663.5h3M377 663.5h3M492 663.5h2M497 663.5h3M55 664.5h1M108 664.5h2M181 664.5h1M299 664.5h3M360 664.5h2M365 664.5h3M503 664.5h3M509 664.5h3M53 665.5h2M113 665.5h3M179 665.5h2M305 665.5h3M311 665.5h3M353 665.5h3M359 665.5h1M515 665.5h3M521 665.5h1M799 665.5h1M48 666.5h2M119 666.5h3M169 666.5h1M173 666.5h3M317 666.5h3M323 666.5h3M329 666.5h3M335 666.5h3M341 666.5h3M347 666.5h3M522 666.5h2M797 666.5h2M47 667.5h1M125 667.5h3M156 667.5h2M161 667.5h3M167 667.5h2M527 667.5h3M41 668.5h3M131 668.5h3M137 668.5h3M143 668.5h3M149 668.5h3M155 668.5h1M37 669.5h1M533 669.5h3M793 669.5h1M30 670.5h2M35 670.5h2M539 670.5h1M791 670.5h2M11 671.5h3M17 671.5h3M23 671.5h3M29 671.5h1M540 671.5h2M5 672.5h3M545 672.5h3M599 672.5h3M605 672.5h3M611 672.5h3M617 672.5h3M623 672.5h3M551 673.5h3M593 673.5h3M629 673.5h3M787 673.5h1M557 674.5h3M563 674.5h3M581 674.5h3M587 674.5h3M635 674.5h3M671 674.5h3M677 674.5h3M683 674.5h3M786 674.5h1M569 675.5h3M575 675.5h3M641 675.5h3M659 675.5h3M665 675.5h3M785 675.5h1M647 676.5h3M653 676.5h3M689 676.5h3M695 678.5h1M781 678.5h1M696 679.5h1M780 679.5h1M697 680.5h1M779 680.5h1M775 682.5h1M773 683.5h2M701 684.5h1M702 685.5h1M703 686.5h1M768 686.5h2M767 687.5h1M763 689.5h1M707 690.5h1M761 690.5h2M708 691.5h1M709 692.5h1M757 693.5h1M755 694.5h2M713 696.5h1M714 697.5h1M751 697.5h1M715 698.5h1M750 698.5h1M749 699.5h1M719 701.5h1M720 702.5h1M745 702.5h1M721 703.5h1M744 703.5h1M743 704.5h1M725 706.5h2M737 706.5h3M727 707.5h1M731 708.5h3"/>
<g shape-rendering="crispEdges">
<rect x="5" y="720" width="1" height="3" fill="#000"/>
<rect x="69" y="720" width="1" height="3" fill="#000"/>
<rect x="133" y="720" width="1" height="3" fill="#000"/>
<rect x="197" y="720" width="1" height="3" fill="#000"/>
<rect x="261" y="720" width="1" height="3" fill="#000"/>
<rect x="325" y="720" width="1" height="3" fill="#000"/>
<rect x="389" y="720" width="1" height="3" fill="#000"/>
<rect x="453" y="720" width="1" height="3" fill="#000"/>
<rect x="517" y="720" width="1" height="3" fill="#000"/>
<rect x="581" y="720" width="1" height="3" fill="#000"/>
<rect x="645" y="720" width="1" height="3" fill="#000"/>
<rect x="709" y="720" width="1" height="3" fill="#000"/>
<rect x="773" y="720" width="1" height="3" fill="#000"/>
<rect x="837" y="720" width="1" height="3" fill="#000"/>
<rect x="901" y="720" width="1" height="3" fill="#000"/>
<rect x="965" y="720" width="1" height="3" fill="#000"/>
<rect x="1029" y="720" width="1" height="3" fill="#000"/>
<rect x="1093" y="720" width="1" height="3" fill="#000"/>
<rect x="1157" y="720" width="1" height="3" fill="#000"/>
<rect x="1221" y="720" width="1" height="3" fill="#000"/>
</g>
<text x="4.1" y="731.8" font-size="9.6" fill="#000" stroke="#000" stroke-width="0.15" text-anchor="start" textLength="53.6" lengthAdjust="spacingAndGlyphs">28 Aug 2019</text>
<text x="68.1" y="731.8" font-size="9.6" fill="#000" stroke="#000" stroke-width="0.15" text-anchor="start" textLength="52.1" lengthAdjust="spacingAndGlyphs">16 Sep 2019</text>
<text x="132.1" y="731.8" font-size="9.6" fill="#000" stroke="#000" stroke-width="0.15" text-anchor="start" textLength="46.1" lengthAdjust="spacingAndGlyphs">4 Oct 2019</text>
<text x="196.1" y="731.8" font-size="9.6" fill="#000" stroke="#000" stroke-width="0.15" text-anchor="start" textLength="51.1" lengthAdjust="spacingAndGlyphs">23 Oct 2019</text>
<text x="260.1" y="731.8" font-size="9.6" fill="#000" stroke="#000" stroke-width="0.15" text-anchor="start" textLength="53.7" lengthAdjust="spacingAndGlyphs">11 Nov 2019</text>
<text x="324.1" y="731.8" font-size="9.6" fill="#000" stroke="#000" stroke-width="0.15" text-anchor="start" textLength="54.1" lengthAdjust="spacingAndGlyphs">29 Nov 2019</text>
<text x="388.1" y="731.8" font-size="9.6" fill="#000" stroke="#000" stroke-width="0.15" text-anchor="start" textLength="52.0" lengthAdjust="spacingAndGlyphs">18 Dec 2019</text>
<text x="452.1" y="731.8" font-size="9.6" fill="#000" stroke="#000" stroke-width="0.15" text-anchor="start" textLength="45.300000000000004" lengthAdjust="spacingAndGlyphs">6 Jan 2020</text>
<text x="516.1" y="731.8" font-size="9.6" fill="#000" stroke="#000" stroke-width="0.15" text-anchor="start" textLength="49.7" lengthAdjust="spacingAndGlyphs">24 Jan 2020</text>
<text x="580.1" y="731.8" font-size="9.6" fill="#000" stroke="#000" stroke-width="0.15" text-anchor="start" textLength="51.5" lengthAdjust="spacingAndGlyphs">12 Feb 2020</text>
<text x="644.1" y="731.8" font-size="9.6" fill="#000" stroke="#000" stroke-width="0.15" text-anchor="start" textLength="46.800000000000004" lengthAdjust="spacingAndGlyphs">2 Mar 2020</text>
<text x="708.1" y="731.8" font-size="9.6" fill="#000" stroke="#000" stroke-width="0.15" text-anchor="start" textLength="51.4" lengthAdjust="spacingAndGlyphs">20 Mar 2020</text>
<text x="772.1" y="731.8" font-size="9.6" fill="#000" stroke="#000" stroke-width="0.15" text-anchor="start" textLength="46.2" lengthAdjust="spacingAndGlyphs">8 Apr 2020</text>
<text x="836.1" y="731.8" font-size="9.6" fill="#000" stroke="#000" stroke-width="0.15" text-anchor="start" textLength="51.2" lengthAdjust="spacingAndGlyphs">27 Apr 2020</text>
<text x="900.1" y="731.8" font-size="9.6" fill="#000" stroke="#000" stroke-width="0.15" text-anchor="start" textLength="55.2" lengthAdjust="spacingAndGlyphs">15 May 2020</text>
<text x="964.1" y="731.8" font-size="9.6" fill="#000" stroke="#000" stroke-width="0.15" text-anchor="start" textLength="44.300000000000004" lengthAdjust="spacingAndGlyphs">3 Jun 2020</text>
<text x="1028.1" y="731.8" font-size="9.6" fill="#000" stroke="#000" stroke-width="0.15" text-anchor="start" textLength="50.2" lengthAdjust="spacingAndGlyphs">22 Jun 2020</text>
<text x="1092.1" y="731.8" font-size="9.6" fill="#000" stroke="#000" stroke-width="0.15" text-anchor="start" textLength="46.2" lengthAdjust="spacingAndGlyphs">10 Jul 2020</text>
<text x="1156.1" y="731.8" font-size="9.6" fill="#000" stroke="#000" stroke-width="0.15" text-anchor="start" textLength="46.9" lengthAdjust="spacingAndGlyphs">29 Jul 2020</text>
<text x="1220.1" y="731.8" font-size="9.6" fill="#000" stroke="#000" stroke-width="0.15" text-anchor="start" textLength="53.2" lengthAdjust="spacingAndGlyphs">17 Aug 2020</text>
<g shape-rendering="crispEdges">
<rect x="0" y="740" width="1633" height="1" fill="#ebebeb"/>
<rect x="0" y="741" width="1633" height="1" fill="#ffffff"/>
<rect x="0" y="742" width="1633" height="1" fill="#000"/>
<rect x="0" y="743" width="1633" height="1" fill="#fafafa"/>
<rect x="0" y="744" width="1633" height="18" fill="#f0f0f0"/>
<rect x="0" y="762" width="1633" height="1" fill="#ffffff"/>
<rect x="0" y="763" width="1633" height="3" fill="#f0f0f0"/>
<rect x="0" y="743" width="1" height="18" fill="#a0a0a0"/><rect x="1" y="743" width="1" height="18" fill="#696969"/>
<rect x="210" y="742" width="104" height="19" fill="#000"/>
<rect x="211" y="742" width="102" height="18" fill="#fff"/>
</g>
<text x="18" y="757.2" font-size="12.6" fill="#6a6a6a" text-anchor="start" textLength="80.8" lengthAdjust="spacingAndGlyphs">EURUSD,Daily</text>
<text x="120" y="757.2" font-size="12.6" fill="#6a6a6a" text-anchor="start" textLength="79.8" lengthAdjust="spacingAndGlyphs">USDCHF,Daily</text>
<text x="221.3" y="757.2" font-size="12.6" fill="#000" text-anchor="start" textLength="81.5" lengthAdjust="spacingAndGlyphs">AUDUSD,Daily</text>
<text x="325" y="757.2" font-size="12.6" fill="#6a6a6a" text-anchor="start" textLength="81.89999999999999" lengthAdjust="spacingAndGlyphs">USDCAD,Daily</text>
<text x="428.5" y="757.2" font-size="12.6" fill="#6a6a6a" text-anchor="start" textLength="83.3" lengthAdjust="spacingAndGlyphs">USDCNH,Daily</text>
<text x="534.3" y="757.2" font-size="12.6" fill="#6a6a6a" text-anchor="start" textLength="80.3" lengthAdjust="spacingAndGlyphs">EURUSD,Daily</text>
<text x="638.1" y="757.2" font-size="12.6" fill="#6a6a6a" text-anchor="start" textLength="68.2" lengthAdjust="spacingAndGlyphs">GBPUSD,H4</text>
<text x="729.6" y="757.2" font-size="12.6" fill="#6a6a6a" text-anchor="start" textLength="68.5" lengthAdjust="spacingAndGlyphs">XAUUSD,H1</text>
<text x="821" y="757.2" font-size="12.6" fill="#6a6a6a" text-anchor="start" textLength="50.599999999999994" lengthAdjust="spacingAndGlyphs">HK50,H1</text>
<text x="893.5" y="757.2" font-size="12.6" fill="#6a6a6a" text-anchor="start" textLength="56.8" lengthAdjust="spacingAndGlyphs">UK100,H1</text>
<text x="973.6" y="757.2" font-size="12.6" fill="#6a6a6a" text-anchor="start" textLength="56.8" lengthAdjust="spacingAndGlyphs">UK100,H1</text>
<text x="1053.7" y="757.2" font-size="12.6" fill="#6a6a6a" text-anchor="start" textLength="56.5" lengthAdjust="spacingAndGlyphs">GER30,H1</text>
<text x="1132.8" y="757.2" font-size="12.6" fill="#6a6a6a" text-anchor="start" textLength="54.5" lengthAdjust="spacingAndGlyphs">FRA40,H1</text>
<text x="1208.9" y="757.2" font-size="12.6" fill="#6a6a6a" text-anchor="start" textLength="50.9" lengthAdjust="spacingAndGlyphs">USOil,H4</text>
<text x="1280.6" y="757.2" font-size="12.6" fill="#6a6a6a" text-anchor="start" textLength="62.599999999999994" lengthAdjust="spacingAndGlyphs">USDJPY,H1</text>
<text x="1364.7" y="757.2" font-size="12.6" fill="#6a6a6a" text-anchor="start" textLength="58.9" lengthAdjust="spacingAndGlyphs">DJ30,Daily</text>
<text x="1444.5" y="757.2" font-size="12.6" fill="#6a6a6a" text-anchor="start" textLength="78.7" lengthAdjust="spacingAndGlyphs">CHINA300,H1</text>
<text x="1544.3" y="757.2" font-size="12.6" fill="#6a6a6a" text-anchor="start" textLength="50.9" lengthAdjust="spacingAndGlyphs">USOil,H1</text>
<g shape-rendering="crispEdges">
<rect x="110" y="745" width="1" height="14" fill="#505050"/>
<rect x="417" y="745" width="1" height="14" fill="#505050"/>
<rect x="522" y="745" width="1" height="14" fill="#505050"/>
<rect x="626" y="745" width="1" height="14" fill="#505050"/>
<rect x="717" y="745" width="1" height="14" fill="#505050"/>
<rect x="809" y="745" width="1" height="14" fill="#505050"/>
<rect x="882" y="745" width="1" height="14" fill="#505050"/>
<rect x="962" y="745" width="1" height="14" fill="#505050"/>
<rect x="1042" y="745" width="1" height="14" fill="#505050"/>
<rect x="1122" y="745" width="1" height="14" fill="#505050"/>
<rect x="1198" y="745" width="1" height="14" fill="#505050"/>
<rect x="1270" y="745" width="1" height="14" fill="#505050"/>
<rect x="1354" y="745" width="1" height="14" fill="#505050"/>
<rect x="1434" y="745" width="1" height="14" fill="#505050"/>
<rect x="1534" y="745" width="1" height="14" fill="#505050"/>
<rect x="1606" y="745" width="1" height="14" fill="#505050"/>
</g>
<path d="M1617 748 L1617 755 L1613 751.5 Z" fill="#909090"/><rect x="1631" y="748" width="2" height="6" fill="#000"/>
</svg>
</body></html>
